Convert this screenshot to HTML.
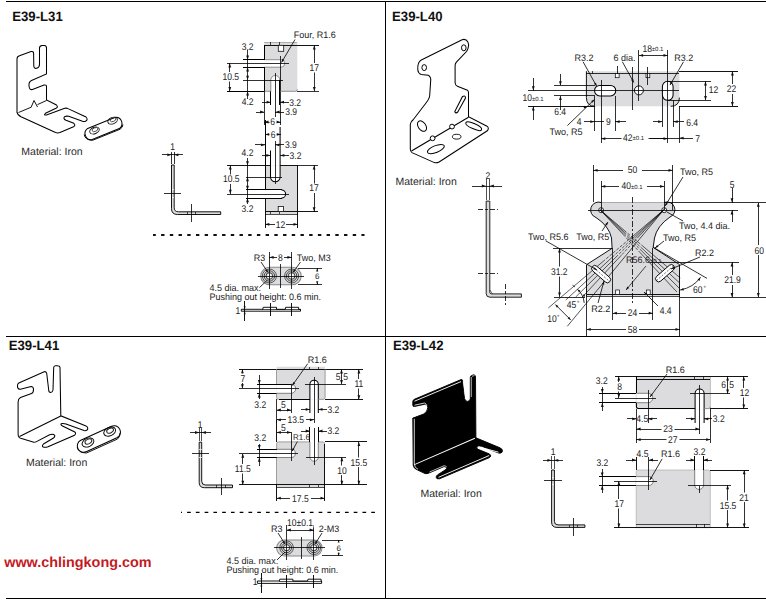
<!DOCTYPE html>
<html><head><meta charset="utf-8"><style>
html,body{margin:0;padding:0;background:#fff;width:766px;height:601px;overflow:hidden}
svg{display:block}
text{font-family:"Liberation Sans", sans-serif;text-rendering:geometricPrecision}
</style></head><body>
<svg width="766" height="601" viewBox="0 0 766 601">
<line x1="6" y1="1.5" x2="766" y2="1.5" stroke="#000" stroke-width="1.38" shape-rendering="crispEdges"/>
<line x1="6" y1="598.5" x2="766" y2="598.5" stroke="#000" stroke-width="1.38" shape-rendering="crispEdges"/>
<line x1="385.5" y1="1" x2="385.5" y2="599" stroke="#000" stroke-width="1.38" shape-rendering="crispEdges"/>
<line x1="6" y1="336.5" x2="766" y2="336.5" stroke="#000" stroke-width="1.38" shape-rendering="crispEdges"/>
<text transform="translate(12.2 20.9) scale(0.97 1)" x="0" y="0" font-size="13.6" text-anchor="start" fill="#111" font-weight="bold">E39-L31</text>
<text transform="translate(392 20.9) scale(0.97 1)" x="0" y="0" font-size="13.6" text-anchor="start" fill="#111" font-weight="bold">E39-L40</text>
<text transform="translate(8.7 349.9) scale(0.97 1)" x="0" y="0" font-size="13.6" text-anchor="start" fill="#111" font-weight="bold">E39-L41</text>
<text transform="translate(392.9 349.8) scale(0.97 1)" x="0" y="0" font-size="13.6" text-anchor="start" fill="#111" font-weight="bold">E39-L42</text>
<text transform="translate(21.3 154.6) scale(1 1)" x="0" y="0" font-size="10.5" text-anchor="start" fill="#2a2a2a">Material: Iron</text>
<text transform="translate(395.5 184.5) scale(1 1)" x="0" y="0" font-size="10.5" text-anchor="start" fill="#2a2a2a">Material: Iron</text>
<text transform="translate(26 465.6) scale(1 1)" x="0" y="0" font-size="10.5" text-anchor="start" fill="#2a2a2a">Material: Iron</text>
<text transform="translate(420.5 496.5) scale(1 1)" x="0" y="0" font-size="10.5" text-anchor="start" fill="#2a2a2a">Material: Iron</text>
<text transform="translate(4.2 566.7) scale(1 1)" x="0" y="0" font-size="14.4" text-anchor="start" fill="#c41a1f" font-weight="bold">www.chlingkong.com</text>
<path d="M 17,113 L 17,59 Q 17,56.5 19.5,55.8 L 31,51.5 Q 33.5,51 33.6,53.5 L 33.8,66 Q 34,68.8 36.5,68.3 Q 39.5,67.5 39.5,64.5 L 39.5,48 Q 39.5,46 42,45.6 L 44.5,45.4 Q 46.5,45.6 46.5,48 L 46.5,74 L 31.5,80.5 Q 28.5,82 29,86 Q 29.5,90.3 32.5,89.5 L 44,85 Q 46.5,84.5 46.5,86.8 L 46.5,100 L 56.5,105 Q 58.5,107 56,108.3 L 45.5,113.3 Q 43,115.3 46.5,115 L 64.7,108.3 Q 66.5,107.8 68,108.6 L 86,117 Q 88.5,119.5 85.5,121.3 Q 84,121.8 82.5,121.3 L 68.7,116.3 Q 63.5,115.5 64,118.5 Q 64.3,119.5 66,120.3 L 73.8,123.3 Q 76,125.3 73.5,126.8 L 60,132.5 Q 57.8,133.3 55.5,132.5 L 21,116.8 Q 17.3,115 17,112 Z" fill="none" stroke="#000" stroke-width="1.035" />
<path d="M 18.5,112.5 L 31,107.3 M 37.5,104.6 L 46.5,100.5" fill="none" stroke="#000" stroke-width="0.9199999999999999" />
<path d="M 31,107.5 L 34,100.5 L 37.5,107" fill="none" stroke="#000" stroke-width="0.9199999999999999" />
<path d="M 87.7,128.4 L 114.7,117.4 A 6.2 6.2 0 0 1 119.3,128.6 L 92.3,139.6 A 6.2 6.2 0 0 1 87.7,128.4 Z" fill="#fff" stroke="#000" stroke-width="1.035" />
<path d="M 84.2,134.5 Q 84.8,139.8 92.3,140.4 L 120,129.3 Q 122.8,127.5 122.9,124.5" fill="none" stroke="#000" stroke-width="0.9199999999999999" />
<ellipse cx="94.5" cy="130.5" rx="5" ry="3.2" transform="rotate(-22 94.5 130.5)" fill="none" stroke="#111" stroke-width="0.9"/>
<ellipse cx="95" cy="129.6" rx="3" ry="1.8" transform="rotate(-22 95 129.6)" fill="none" stroke="#333" stroke-width="0.8"/>
<ellipse cx="112.6" cy="120.6" rx="5" ry="3.2" transform="rotate(-22 112.6 120.6)" fill="none" stroke="#111" stroke-width="0.9"/>
<ellipse cx="113" cy="119.7" rx="3" ry="1.8" transform="rotate(-22 113 119.7)" fill="none" stroke="#333" stroke-width="0.8"/>
<text transform="translate(172.7 149.58) scale(0.87 1)" x="0" y="0" font-size="9.8" text-anchor="middle" fill="#222">1</text>
<line x1="162.2" y1="154.8" x2="182.7" y2="154.8" stroke="#000" stroke-width="0.8049999999999999" shape-rendering="crispEdges"/>
<polygon points="171.50,154.80 167.30,156.20 167.30,153.40" fill="#111"/>
<polygon points="174.20,154.80 178.40,153.40 178.40,156.20" fill="#111"/>
<line x1="171.5" y1="151.5" x2="171.5" y2="164.2" stroke="#000" stroke-width="0.8049999999999999" shape-rendering="crispEdges"/>
<line x1="174.2" y1="151.5" x2="174.2" y2="164.2" stroke="#000" stroke-width="0.8049999999999999" shape-rendering="crispEdges"/>
<path d="M 171.5,165 L 171.5,208.5 Q 171.5,214.5 177.5,214.5 L 220.7,214.5 L 220.7,211.8 L 178.5,211.8 Q 174.2,211.8 174.2,207.5 L 174.2,165 Z" fill="#dcdcdf" stroke="#000" stroke-width="0.9199999999999999" />
<line x1="164" y1="193.2" x2="180.8" y2="193.2" stroke="#000" stroke-width="0.8049999999999999" shape-rendering="crispEdges"/>
<line x1="171.5" y1="189.5" x2="174.2" y2="189.5" stroke="#fff" stroke-width="0.69" shape-rendering="crispEdges"/>
<line x1="171.5" y1="197" x2="174.2" y2="197" stroke="#fff" stroke-width="0.69" shape-rendering="crispEdges"/>
<line x1="191.4" y1="204.3" x2="191.4" y2="222" stroke="#000" stroke-width="0.8049999999999999" shape-rendering="crispEdges"/>
<line x1="187.5" y1="211.8" x2="187.5" y2="214.5" stroke="#000" stroke-width="0.69" shape-rendering="crispEdges"/>
<line x1="195" y1="211.8" x2="195" y2="214.5" stroke="#000" stroke-width="0.69" shape-rendering="crispEdges"/>
<rect x="264.3" y="42.2" width="33" height="49.1" rx="0" fill="#dcdcdf" stroke="none" stroke-width="0.8"/>
<line x1="264.3" y1="45.3" x2="319" y2="45.3" stroke="#000" stroke-width="0.9199999999999999" shape-rendering="crispEdges"/>
<line x1="264.3" y1="42.2" x2="297.3" y2="42.2" stroke="#888" stroke-width="0.575" shape-rendering="crispEdges"/>
<line x1="270.3" y1="42.2" x2="270.3" y2="45.3" stroke="#000" stroke-width="0.69" shape-rendering="crispEdges"/>
<line x1="279.3" y1="42.2" x2="279.3" y2="45.3" stroke="#000" stroke-width="0.69" shape-rendering="crispEdges"/>
<rect x="278.3" y="45.3" width="5.4" height="6" rx="0" fill="#fff" stroke="#111" stroke-width="0.8"/>
<path d="M 242.8,59.7 L 281,59.7 A 3.75 3.75 0 0 1 281,67.2 L 242.8,67.2 Z" fill="#fff" stroke="none" stroke-width="0.9199999999999999" />
<line x1="242.8" y1="59.7" x2="264.3" y2="59.7" stroke="#000" stroke-width="1.035" shape-rendering="crispEdges"/>
<line x1="242.8" y1="67.2" x2="264.3" y2="67.2" stroke="#000" stroke-width="1.035" shape-rendering="crispEdges"/>
<path d="M 264.3,59.7 L 281,59.7 A 3.75 3.75 0 0 1 281,67.2 L 264.3,67.2" fill="none" stroke="#777" stroke-width="0.8049999999999999" />
<line x1="264.3" y1="45.3" x2="264.3" y2="59.7" stroke="#000" stroke-width="1.035" shape-rendering="crispEdges"/>
<line x1="264.3" y1="67.2" x2="264.3" y2="91.3" stroke="#000" stroke-width="1.035" shape-rendering="crispEdges"/>
<line x1="227.4" y1="63.2" x2="288.8" y2="63.2" stroke="#000" stroke-width="0.8049999999999999" shape-rendering="crispEdges"/>
<path d="M 270.8,91.5 L 270.8,80 A 4.5 4.5 0 0 1 279.8,80 L 279.8,91.5 Z" fill="#fff" stroke="none" stroke-width="0.9199999999999999" />
<path d="M 270.8,91.3 L 270.8,80 A 4.5 4.5 0 0 1 279.8,80" fill="none" stroke="#777" stroke-width="0.8049999999999999" />
<line x1="270.8" y1="91.3" x2="270.8" y2="105" stroke="#000" stroke-width="1.035" shape-rendering="crispEdges"/>
<line x1="279.8" y1="80" x2="279.8" y2="105" stroke="#000" stroke-width="1.15" shape-rendering="crispEdges"/>
<line x1="275.4" y1="72.5" x2="275.4" y2="116.7" stroke="#000" stroke-width="0.8049999999999999" shape-rendering="crispEdges"/>
<line x1="242.8" y1="80" x2="283" y2="80" stroke="#000" stroke-width="0.8049999999999999" shape-rendering="crispEdges"/>
<line x1="280.5" y1="55.7" x2="280.5" y2="125" stroke="#000" stroke-width="0.8049999999999999" shape-rendering="crispEdges"/>
<line x1="227.4" y1="91.3" x2="264.3" y2="91.3" stroke="#000" stroke-width="1.035" shape-rendering="crispEdges"/>
<path d="M 264.3,91.3 L 270.8,91.3 M 279.8,91.3 L 295.3,91.3 Q 297.3,91.3 297.3,89.3" fill="none" stroke="#777" stroke-width="0.8049999999999999" />
<line x1="297.3" y1="91.3" x2="319" y2="91.3" stroke="#000" stroke-width="0.8049999999999999" shape-rendering="crispEdges"/>
<line x1="264.3" y1="91.3" x2="264.3" y2="125" stroke="#000" stroke-width="0.8049999999999999" shape-rendering="crispEdges"/>
<line x1="314.3" y1="45.3" x2="314.3" y2="91.3" stroke="#000" stroke-width="0.8049999999999999" shape-rendering="crispEdges"/>
<polygon points="314.30,45.30 315.70,49.50 312.90,49.50" fill="#111"/>
<polygon points="314.30,91.30 312.90,87.10 315.70,87.10" fill="#111"/>
<rect x="308.5" y="63" width="12" height="9.5" rx="0" fill="#fff" stroke="none" stroke-width="0.8"/>
<text transform="translate(314.3 70.98) scale(0.87 1)" x="0" y="0" font-size="9.8" text-anchor="middle" fill="#222">17</text>
<line x1="229.8" y1="63.2" x2="229.8" y2="91.3" stroke="#000" stroke-width="0.8049999999999999" shape-rendering="crispEdges"/>
<polygon points="229.80,63.20 231.20,67.40 228.40,67.40" fill="#111"/>
<polygon points="229.80,91.30 228.40,87.10 231.20,87.10" fill="#111"/>
<rect x="221.5" y="72" width="19" height="9.5" rx="0" fill="#fff" stroke="none" stroke-width="0.8"/>
<text transform="translate(230.8 80.08) scale(0.87 1)" x="0" y="0" font-size="9.8" text-anchor="middle" fill="#222">10.5</text>
<line x1="247.6" y1="50.2" x2="247.6" y2="98.7" stroke="#000" stroke-width="0.8049999999999999" shape-rendering="crispEdges"/>
<polygon points="247.60,59.70 246.20,55.50 249.00,55.50" fill="#111"/>
<polygon points="247.60,67.20 249.00,71.40 246.20,71.40" fill="#111"/>
<polygon points="247.60,80.00 246.20,75.80 249.00,75.80" fill="#111"/>
<polygon points="247.60,91.30 249.00,95.50 246.20,95.50" fill="#111"/>
<text transform="translate(247.6 49.88) scale(0.87 1)" x="0" y="0" font-size="9.8" text-anchor="middle" fill="#222">3.2</text>
<text transform="translate(247.6 105.18) scale(0.87 1)" x="0" y="0" font-size="9.8" text-anchor="middle" fill="#222">4.2</text>
<line x1="262" y1="102.2" x2="270.8" y2="102.2" stroke="#000" stroke-width="0.8049999999999999" shape-rendering="crispEdges"/>
<polygon points="270.80,102.20 266.60,103.60 266.60,100.80" fill="#111"/>
<line x1="279.8" y1="102.2" x2="289" y2="102.2" stroke="#000" stroke-width="0.8049999999999999" shape-rendering="crispEdges"/>
<polygon points="279.80,102.20 284.00,100.80 284.00,103.60" fill="#111"/>
<text transform="translate(289.2 105.58) scale(0.87 1)" x="0" y="0" font-size="9.8" text-anchor="start" fill="#222">3.2</text>
<line x1="256" y1="112" x2="264.3" y2="112" stroke="#000" stroke-width="0.8049999999999999" shape-rendering="crispEdges"/>
<polygon points="264.30,112.00 260.10,113.40 260.10,110.60" fill="#111"/>
<line x1="275.4" y1="112" x2="284" y2="112" stroke="#000" stroke-width="0.8049999999999999" shape-rendering="crispEdges"/>
<polygon points="275.40,112.00 279.60,110.60 279.60,113.40" fill="#111"/>
<text transform="translate(285.2 115.38) scale(0.87 1)" x="0" y="0" font-size="9.8" text-anchor="start" fill="#222">3.9</text>
<line x1="264.3" y1="122" x2="280.5" y2="122" stroke="#000" stroke-width="0.8049999999999999" shape-rendering="crispEdges"/>
<polygon points="264.30,122.00 268.50,120.60 268.50,123.40" fill="#111"/>
<polygon points="280.50,122.00 276.30,123.40 276.30,120.60" fill="#111"/>
<rect x="269.5" y="117" width="7" height="9" rx="0" fill="#fff" stroke="none" stroke-width="0.8"/>
<text transform="translate(272.7 124.88) scale(0.87 1)" x="0" y="0" font-size="9.8" text-anchor="middle" fill="#222">6</text>
<text transform="translate(293.7 37.84) scale(0.96 1)" x="0" y="0" font-size="9.4" text-anchor="start" fill="#222">Four, R1.6</text>
<line x1="295" y1="39.5" x2="281.5" y2="62.5" stroke="#000" stroke-width="0.8049999999999999"/>
<polygon points="281.50,62.50 282.24,58.87 284.31,60.09" fill="#111"/>
<rect x="265.1" y="165.4" width="32.6" height="48.8" rx="0" fill="#dcdcdf" stroke="none" stroke-width="0.8"/>
<path d="M 270.5,165.4 L 270.5,177 A 4.8 4.8 0 0 0 280.1,177 L 280.1,165.4 Z" fill="#fff" stroke="none" stroke-width="0.9199999999999999" />
<path d="M 270.5,150.6 L 270.5,177 A 4.8 4.8 0 0 0 280.1,177 L 280.1,127" fill="none" stroke="#000" stroke-width="1.035" />
<line x1="265.1" y1="120" x2="265.1" y2="189.9" stroke="#000" stroke-width="1.035" shape-rendering="crispEdges"/>
<path d="M 281.5,189.9 A 4.1 4.1 0 0 1 281.5,198.1 L 245.6,198.1 L 245.6,189.9 Z" fill="#fff" stroke="none" stroke-width="0.9199999999999999" />
<line x1="245.6" y1="189.9" x2="281.5" y2="189.9" stroke="#000" stroke-width="1.035" shape-rendering="crispEdges"/>
<line x1="245.6" y1="198.1" x2="281.5" y2="198.1" stroke="#000" stroke-width="1.035" shape-rendering="crispEdges"/>
<path d="M 281.5,189.9 A 4.1 4.1 0 0 1 281.5,198.1" fill="none" stroke="#000" stroke-width="1.035" />
<line x1="265.1" y1="198.1" x2="265.1" y2="228.1" stroke="#000" stroke-width="0.9199999999999999" shape-rendering="crispEdges"/>
<line x1="227.4" y1="165.4" x2="270.5" y2="165.4" stroke="#000" stroke-width="0.9199999999999999" shape-rendering="crispEdges"/>
<line x1="280.1" y1="165.4" x2="297.7" y2="165.4" stroke="#000" stroke-width="0.9199999999999999" shape-rendering="crispEdges"/>
<line x1="297.7" y1="165.4" x2="318.3" y2="165.4" stroke="#000" stroke-width="0.8049999999999999" shape-rendering="crispEdges"/>
<line x1="297.7" y1="165.4" x2="297.7" y2="228.1" stroke="#000" stroke-width="0.9199999999999999" shape-rendering="crispEdges"/>
<line x1="265.1" y1="211.5" x2="318.3" y2="211.5" stroke="#000" stroke-width="0.9199999999999999" shape-rendering="crispEdges"/>
<line x1="265.1" y1="214.2" x2="297.7" y2="214.2" stroke="#000" stroke-width="0.69" shape-rendering="crispEdges"/>
<line x1="270.5" y1="211.5" x2="270.5" y2="214.2" stroke="#000" stroke-width="0.69" shape-rendering="crispEdges"/>
<line x1="279.1" y1="211.5" x2="279.1" y2="214.2" stroke="#000" stroke-width="0.69" shape-rendering="crispEdges"/>
<rect x="278.2" y="206.5" width="5.3" height="5" rx="0" fill="#fff" stroke="#111" stroke-width="0.8"/>
<line x1="245.6" y1="177" x2="282" y2="177" stroke="#000" stroke-width="0.8049999999999999" shape-rendering="crispEdges"/>
<line x1="227.4" y1="194" x2="288.7" y2="194" stroke="#000" stroke-width="0.8049999999999999" shape-rendering="crispEdges"/>
<line x1="275.3" y1="141" x2="275.3" y2="184.1" stroke="#000" stroke-width="0.8049999999999999" shape-rendering="crispEdges"/>
<line x1="230.3" y1="165.4" x2="230.3" y2="194" stroke="#000" stroke-width="0.8049999999999999" shape-rendering="crispEdges"/>
<polygon points="230.30,165.40 231.70,169.60 228.90,169.60" fill="#111"/>
<polygon points="230.30,194.00 228.90,189.80 231.70,189.80" fill="#111"/>
<rect x="221.5" y="174.5" width="19" height="9.5" rx="0" fill="#fff" stroke="none" stroke-width="0.8"/>
<text transform="translate(231.3 182.38) scale(0.87 1)" x="0" y="0" font-size="9.8" text-anchor="middle" fill="#222">10.5</text>
<line x1="247.5" y1="158.3" x2="247.5" y2="204.2" stroke="#000" stroke-width="0.8049999999999999" shape-rendering="crispEdges"/>
<polygon points="247.50,165.40 246.10,161.20 248.90,161.20" fill="#111"/>
<polygon points="247.50,177.00 248.90,181.20 246.10,181.20" fill="#111"/>
<polygon points="247.50,189.90 246.10,185.70 248.90,185.70" fill="#111"/>
<polygon points="247.50,198.10 248.90,202.30 246.10,202.30" fill="#111"/>
<text transform="translate(247.5 156.28) scale(0.87 1)" x="0" y="0" font-size="9.8" text-anchor="middle" fill="#222">4.2</text>
<text transform="translate(247.5 212.38) scale(0.87 1)" x="0" y="0" font-size="9.8" text-anchor="middle" fill="#222">3.2</text>
<line x1="314.1" y1="165.4" x2="314.1" y2="211.5" stroke="#000" stroke-width="0.8049999999999999" shape-rendering="crispEdges"/>
<polygon points="314.10,165.40 315.50,169.60 312.70,169.60" fill="#111"/>
<polygon points="314.10,211.50 312.70,207.30 315.50,207.30" fill="#111"/>
<rect x="308.5" y="183.5" width="12" height="9.5" rx="0" fill="#fff" stroke="none" stroke-width="0.8"/>
<text transform="translate(314.1 191.38) scale(0.87 1)" x="0" y="0" font-size="9.8" text-anchor="middle" fill="#222">17</text>
<line x1="265.1" y1="224.3" x2="297.7" y2="224.3" stroke="#000" stroke-width="0.8049999999999999" shape-rendering="crispEdges"/>
<polygon points="265.10,224.30 269.30,222.90 269.30,225.70" fill="#111"/>
<polygon points="297.70,224.30 293.50,225.70 293.50,222.90" fill="#111"/>
<rect x="275" y="219.5" width="11" height="9.5" rx="0" fill="#fff" stroke="none" stroke-width="0.8"/>
<text transform="translate(280.6 227.68) scale(0.87 1)" x="0" y="0" font-size="9.8" text-anchor="middle" fill="#222">12</text>
<line x1="265.1" y1="134.4" x2="280.8" y2="134.4" stroke="#000" stroke-width="0.8049999999999999" shape-rendering="crispEdges"/>
<polygon points="265.10,134.40 269.30,133.00 269.30,135.80" fill="#111"/>
<polygon points="280.80,134.40 276.60,135.80 276.60,133.00" fill="#111"/>
<rect x="269.5" y="129.5" width="7" height="9" rx="0" fill="#fff" stroke="none" stroke-width="0.8"/>
<text transform="translate(273 137.78) scale(0.87 1)" x="0" y="0" font-size="9.8" text-anchor="middle" fill="#222">6</text>
<line x1="255.2" y1="144.9" x2="265.1" y2="144.9" stroke="#000" stroke-width="0.8049999999999999" shape-rendering="crispEdges"/>
<polygon points="265.10,144.90 260.90,146.30 260.90,143.50" fill="#111"/>
<line x1="275.3" y1="144.9" x2="283.9" y2="144.9" stroke="#000" stroke-width="0.8049999999999999" shape-rendering="crispEdges"/>
<polygon points="275.30,144.90 279.50,143.50 279.50,146.30" fill="#111"/>
<text transform="translate(284.9 148.28) scale(0.87 1)" x="0" y="0" font-size="9.8" text-anchor="start" fill="#222">3.9</text>
<line x1="261.9" y1="155.4" x2="270.5" y2="155.4" stroke="#000" stroke-width="0.8049999999999999" shape-rendering="crispEdges"/>
<polygon points="270.50,155.40 266.30,156.80 266.30,154.00" fill="#111"/>
<line x1="280.1" y1="155.4" x2="288.7" y2="155.4" stroke="#000" stroke-width="0.8049999999999999" shape-rendering="crispEdges"/>
<polygon points="280.10,155.40 284.30,154.00 284.30,156.80" fill="#111"/>
<text transform="translate(289.6 158.78) scale(0.87 1)" x="0" y="0" font-size="9.8" text-anchor="start" fill="#222">3.2</text>
<line x1="153" y1="234.9" x2="364.5" y2="234.9" stroke="#111" stroke-width="2" stroke-dasharray="3.4 5.31" stroke-dashoffset="0.6"/>
<path d="M 269.5,267.2 L 292.4,267.2 A 8.8 8.8 0 0 1 292.4,284.8 L 269.5,284.8 A 8.8 8.8 0 0 1 269.5,267.2 Z" fill="#dcdcdf" stroke="#888" stroke-width="1.035" />
<circle cx="269.4" cy="276" r="7.0" fill="none" stroke="#444" stroke-width="0.9"/>
<circle cx="269.4" cy="276" r="5.2" fill="none" stroke="#333" stroke-width="0.9"/>
<circle cx="269.4" cy="276" r="3.4" fill="none" stroke="#333" stroke-width="0.9"/>
<circle cx="269.4" cy="276" r="1.8" fill="#fff" stroke="#fff" stroke-width="0.5"/>
<circle cx="291.6" cy="276" r="7.0" fill="none" stroke="#444" stroke-width="0.9"/>
<circle cx="291.6" cy="276" r="5.2" fill="none" stroke="#333" stroke-width="0.9"/>
<circle cx="291.6" cy="276" r="3.4" fill="none" stroke="#333" stroke-width="0.9"/>
<circle cx="291.6" cy="276" r="1.8" fill="#fff" stroke="#fff" stroke-width="0.5"/>
<line x1="258" y1="276" x2="303.6" y2="276" stroke="#000" stroke-width="0.8049999999999999" shape-rendering="crispEdges"/>
<line x1="269.4" y1="252.4" x2="269.4" y2="288.6" stroke="#000" stroke-width="0.8049999999999999" shape-rendering="crispEdges"/>
<line x1="291.6" y1="252.4" x2="291.6" y2="288.6" stroke="#000" stroke-width="0.8049999999999999" shape-rendering="crispEdges"/>
<line x1="280.5" y1="264" x2="280.5" y2="287.5" stroke="#000" stroke-width="0.8049999999999999" shape-rendering="crispEdges"/>
<line x1="269.4" y1="257.3" x2="291.6" y2="257.3" stroke="#000" stroke-width="0.8049999999999999" shape-rendering="crispEdges"/>
<polygon points="269.40,257.30 273.60,255.90 273.60,258.70" fill="#111"/>
<polygon points="291.60,257.30 287.40,258.70 287.40,255.90" fill="#111"/>
<rect x="277" y="252.5" width="7" height="9" rx="0" fill="#fff" stroke="none" stroke-width="0.8"/>
<text transform="translate(280.4 260.68) scale(0.87 1)" x="0" y="0" font-size="9.8" text-anchor="middle" fill="#222">8</text>
<text transform="translate(253.7 260.54) scale(0.96 1)" x="0" y="0" font-size="9.4" text-anchor="start" fill="#222">R3</text>
<text transform="translate(296.8 260.54) scale(0.96 1)" x="0" y="0" font-size="9.4" text-anchor="start" fill="#222">Two, M3</text>
<line x1="261" y1="262" x2="268" y2="272.5" stroke="#000" stroke-width="0.8049999999999999"/>
<polygon points="268.00,272.50 265.32,270.44 267.15,269.22" fill="#111"/>
<line x1="300.5" y1="262" x2="293" y2="272.5" stroke="#000" stroke-width="0.8049999999999999"/>
<polygon points="293.00,272.50 293.97,269.26 295.76,270.54" fill="#111"/>
<line x1="298.4" y1="268.3" x2="322" y2="268.3" stroke="#000" stroke-width="0.8049999999999999" shape-rendering="crispEdges"/>
<line x1="298.4" y1="284.5" x2="322" y2="284.5" stroke="#000" stroke-width="0.8049999999999999" shape-rendering="crispEdges"/>
<line x1="317.2" y1="268.3" x2="317.2" y2="270" stroke="#000" stroke-width="0.8049999999999999" shape-rendering="crispEdges"/>
<line x1="317.2" y1="282.5" x2="317.2" y2="284.5" stroke="#000" stroke-width="0.8049999999999999" shape-rendering="crispEdges"/>
<polygon points="317.20,268.30 318.30,271.50 316.10,271.50" fill="#111"/>
<polygon points="317.20,284.50 316.10,281.30 318.30,281.30" fill="#111"/>
<text transform="translate(317.2 279.06) scale(1 1)" x="0" y="0" font-size="8" text-anchor="middle" fill="#222">6</text>
<text transform="translate(209.5 291.24) scale(0.96 1)" x="0" y="0" font-size="9.4" text-anchor="start" fill="#222">4.5 dia. max.</text>
<line x1="259.5" y1="287.5" x2="267.5" y2="280" stroke="#000" stroke-width="0.8049999999999999"/>
<text transform="translate(209.5 300.24) scale(0.96 1)" x="0" y="0" font-size="9.4" text-anchor="start" fill="#222">Pushing out height: 0.6 min.</text>
<text transform="translate(237.9 313.58) scale(0.87 1)" x="0" y="0" font-size="9.8" text-anchor="middle" fill="#222">1</text>
<path d="M 241.3,309.3 L 262.8,309.3 L 263.2,307.3 L 276.5,307.3 L 276.5,309.3 L 285.3,309.3 L 285.6,307.3 L 298.6,307.3 L 298.6,309.3 L 300.5,309.3 L 300.5,311.2 L 241.3,311.2 Z" fill="#fff" stroke="#000" stroke-width="0.9199999999999999" />
<line x1="261.5" y1="309.3" x2="300.5" y2="309.3" stroke="#000" stroke-width="0.69" shape-rendering="crispEdges"/>
<line x1="244.7" y1="301.4" x2="244.7" y2="320.5" stroke="#000" stroke-width="0.9199999999999999" shape-rendering="crispEdges"/>
<polygon points="244.70,309.30 243.70,306.30 245.70,306.30" fill="#111"/>
<polygon points="244.70,311.20 245.70,314.20 243.70,314.20" fill="#111"/>
<line x1="270.2" y1="302.9" x2="270.2" y2="315.6" stroke="#000" stroke-width="0.9199999999999999" shape-rendering="crispEdges"/>
<line x1="291.2" y1="302.9" x2="291.2" y2="315.6" stroke="#000" stroke-width="0.9199999999999999" shape-rendering="crispEdges"/>
<path d="M 421.3,60 L 462.1,39.7 Q 466,38.5 467.9,42 Q 469.5,45 468,48.5 L 466.7,51.3 L 456.2,62.4 Q 455,64 455.1,66 L 455.1,82.8 Q 455.3,85.5 457.4,86.2 L 467.5,90.3 Q 468.5,91 468.5,92.5 L 468.5,116.7 L 487,126.2 Q 489.5,128 487.3,130.8 L 439.1,162 Q 436.5,163.3 434.4,162.6 L 412,152.6 Q 410.3,151.5 410.3,149 L 410.3,124.4 Q 410.5,121.5 413.2,119.7 L 426,103 Q 429.5,98.5 429.7,95.5 L 430.6,81.6 Q 431.5,77.5 428.3,75.2 L 421.3,74.6 Q 418.2,73.3 417.8,70 Q 417.3,62 421.3,60 Z" fill="#fff" stroke="#000" stroke-width="1.035" />
<line x1="411.5" y1="151" x2="468.5" y2="117.3" stroke="#000" stroke-width="1.035"/>
<ellipse cx="424.2" cy="67.6" rx="2.3" ry="3" fill="none" stroke="#000" stroke-width="1"/>
<ellipse cx="463.8" cy="47.8" rx="2.3" ry="3" fill="none" stroke="#000" stroke-width="1"/>
<path d="M 462.5,96.5 Q 465.5,95 465.5,98 L 457.8,112 Q 455.5,114 454.8,111.5 L 462.5,96.5 Z" fill="none" stroke="#000" stroke-width="1.035" />
<ellipse cx="422" cy="126.1" rx="3.8" ry="5.8" transform="rotate(-35 422 126.1)" fill="none" stroke="#000" stroke-width="1"/>
<circle cx="432.6" cy="138.3" r="2.4" fill="#fff" stroke="#000" stroke-width="1.0"/>
<circle cx="452" cy="126.6" r="2.4" fill="#fff" stroke="#000" stroke-width="1.0"/>
<ellipse cx="473.7" cy="126.2" rx="8.6" ry="2.6" transform="rotate(24 473.7 126.2)" fill="none" stroke="#000" stroke-width="1"/>
<ellipse cx="456.7" cy="136.7" rx="4.3" ry="2.4" fill="none" stroke="#000" stroke-width="0.9"/>
<ellipse cx="436" cy="149" rx="9" ry="3.4" transform="rotate(-22 436 149.3)" fill="none" stroke="#000" stroke-width="1"/>
<path d="M 586.4,71.2 L 679.4,71.2 L 679.4,97.6 Q 679.4,106.3 670.7,106.3 L 595.1,106.3 Q 586.4,106.3 586.4,97.6 Z" fill="#dcdcdf" stroke="none" stroke-width="0.9199999999999999" />
<line x1="586.4" y1="73.5" x2="679.4" y2="73.5" stroke="#000" stroke-width="0.8049999999999999" shape-rendering="crispEdges"/>
<line x1="679.4" y1="71.2" x2="738" y2="71.2" stroke="#000" stroke-width="0.9199999999999999" shape-rendering="crispEdges"/>
<line x1="679.4" y1="106.3" x2="738" y2="106.3" stroke="#000" stroke-width="0.9199999999999999" shape-rendering="crispEdges"/>
<path d="M 586.4,71.2 L 586.4,97.6 Q 586.4,106.3 595.1,106.3" fill="none" stroke="#000" stroke-width="0.9199999999999999" />
<path d="M 670.7,106.3 Q 679.4,106.3 679.4,97.6" fill="none" stroke="#000" stroke-width="0.9199999999999999" />
<line x1="528.1" y1="106.3" x2="595.1" y2="106.3" stroke="#000" stroke-width="0.9199999999999999" shape-rendering="crispEdges"/>
<line x1="592.7" y1="71.2" x2="592.7" y2="73.5" stroke="#000" stroke-width="0.69" shape-rendering="crispEdges"/>
<path d="M 599.8,85.4 L 610.5,85.4 A 5.25 5.25 0 0 1 610.5,95.9 L 599.8,95.9 A 5.25 5.25 0 0 1 599.8,85.4 Z" fill="#fff" stroke="#000" stroke-width="1.035" />
<circle cx="638.9" cy="90.4" r="4.5" fill="#fff" stroke="#000" stroke-width="0.9"/>
<path d="M 662.4,86.6 A 5.35 5.35 0 0 1 673.1,86.6 L 673.1,95 A 5.35 5.35 0 0 1 662.4,95 Z" fill="#fff" stroke="#000" stroke-width="1.035" />
<rect x="615.3" y="73.5" width="3.8" height="4.2" rx="0" fill="#fff" stroke="#000" stroke-width="0.7"/>
<rect x="646" y="73.5" width="3.8" height="4.2" rx="0" fill="#fff" stroke="#000" stroke-width="0.7"/>
<line x1="617.2" y1="66.2" x2="617.2" y2="73.5" stroke="#000" stroke-width="0.8049999999999999" shape-rendering="crispEdges"/>
<line x1="647.9" y1="66.5" x2="647.9" y2="84.6" stroke="#000" stroke-width="0.8049999999999999" shape-rendering="crispEdges"/>
<line x1="528.1" y1="90.5" x2="679.4" y2="90.5" stroke="#000" stroke-width="0.8049999999999999" shape-rendering="crispEdges"/>
<line x1="601.1" y1="80.2" x2="601.1" y2="143" stroke="#000" stroke-width="0.8049999999999999" shape-rendering="crispEdges"/>
<line x1="638.9" y1="49.6" x2="638.9" y2="101.2" stroke="#000" stroke-width="0.8049999999999999" shape-rendering="crispEdges"/>
<line x1="667.7" y1="49.6" x2="667.7" y2="143" stroke="#000" stroke-width="0.8049999999999999" shape-rendering="crispEdges"/>
<line x1="632.5" y1="66.5" x2="632.5" y2="110.1" stroke="#000" stroke-width="0.8049999999999999" shape-rendering="crispEdges"/>
<line x1="554.3" y1="85.4" x2="594.5" y2="85.4" stroke="#000" stroke-width="0.8049999999999999" shape-rendering="crispEdges"/>
<line x1="554.3" y1="95.9" x2="594.5" y2="95.9" stroke="#000" stroke-width="0.8049999999999999" shape-rendering="crispEdges"/>
<line x1="594.5" y1="96" x2="594.5" y2="130.8" stroke="#000" stroke-width="0.8049999999999999" shape-rendering="crispEdges"/>
<line x1="615.4" y1="96" x2="615.4" y2="130.8" stroke="#000" stroke-width="0.8049999999999999" shape-rendering="crispEdges"/>
<line x1="662.4" y1="95" x2="662.4" y2="127" stroke="#000" stroke-width="0.8049999999999999" shape-rendering="crispEdges"/>
<line x1="673.4" y1="100" x2="673.4" y2="127" stroke="#000" stroke-width="0.8049999999999999" shape-rendering="crispEdges"/>
<line x1="679.4" y1="106.3" x2="679.4" y2="143" stroke="#000" stroke-width="0.8049999999999999" shape-rendering="crispEdges"/>
<line x1="668" y1="81.3" x2="711.3" y2="81.3" stroke="#000" stroke-width="0.8049999999999999" shape-rendering="crispEdges"/>
<line x1="668" y1="100.3" x2="711.3" y2="100.3" stroke="#000" stroke-width="0.8049999999999999" shape-rendering="crispEdges"/>
<line x1="533.3" y1="77.6" x2="533.3" y2="90.5" stroke="#000" stroke-width="0.8049999999999999" shape-rendering="crispEdges"/>
<polygon points="533.30,90.50 531.90,86.30 534.70,86.30" fill="#111"/>
<line x1="533.3" y1="106.3" x2="533.3" y2="119.5" stroke="#000" stroke-width="0.8049999999999999" shape-rendering="crispEdges"/>
<polygon points="533.30,106.30 534.70,110.50 531.90,110.50" fill="#111"/>
<text transform="translate(522.5 101.38) scale(0.87 1)" x="0" y="0" font-size="9.8" text-anchor="start" fill="#222">10</text>
<text transform="translate(532 100.87) scale(1 1)" x="0" y="0" font-size="6" text-anchor="start" fill="#222">±0.1</text>
<line x1="560.4" y1="74" x2="560.4" y2="85.4" stroke="#000" stroke-width="0.8049999999999999" shape-rendering="crispEdges"/>
<polygon points="560.40,85.40 559.00,81.20 561.80,81.20" fill="#111"/>
<line x1="560.4" y1="95.9" x2="560.4" y2="109.9" stroke="#000" stroke-width="0.8049999999999999" shape-rendering="crispEdges"/>
<polygon points="560.40,95.90 561.80,100.10 559.00,100.10" fill="#111"/>
<text transform="translate(554.2 114.98) scale(0.87 1)" x="0" y="0" font-size="9.8" text-anchor="start" fill="#222">6.4</text>
<line x1="584" y1="121.7" x2="594.5" y2="121.7" stroke="#000" stroke-width="0.8049999999999999" shape-rendering="crispEdges"/>
<polygon points="594.50,121.70 590.30,123.10 590.30,120.30" fill="#111"/>
<line x1="594.5" y1="121.7" x2="604" y2="121.7" stroke="#000" stroke-width="0.8049999999999999" shape-rendering="crispEdges"/>
<line x1="615.4" y1="121.7" x2="625.5" y2="121.7" stroke="#000" stroke-width="0.8049999999999999" shape-rendering="crispEdges"/>
<polygon points="615.40,121.70 619.60,120.30 619.60,123.10" fill="#111"/>
<text transform="translate(579 124.88) scale(0.87 1)" x="0" y="0" font-size="9.8" text-anchor="middle" fill="#222">4</text>
<text transform="translate(608.3 124.88) scale(0.87 1)" x="0" y="0" font-size="9.8" text-anchor="middle" fill="#222">9</text>
<line x1="601.1" y1="138.7" x2="667.7" y2="138.7" stroke="#000" stroke-width="0.8049999999999999" shape-rendering="crispEdges"/>
<polygon points="601.10,138.70 605.30,137.30 605.30,140.10" fill="#111"/>
<polygon points="667.70,138.70 663.50,140.10 663.50,137.30" fill="#111"/>
<rect x="621.5" y="133.5" width="27" height="10" rx="0" fill="#fff" stroke="none" stroke-width="0.8"/>
<text transform="translate(623 140.98) scale(0.87 1)" x="0" y="0" font-size="9.8" text-anchor="start" fill="#222">42</text>
<text transform="translate(632.5 140.47) scale(1 1)" x="0" y="0" font-size="6" text-anchor="start" fill="#222">±0.1</text>
<line x1="652.6" y1="121.7" x2="662.4" y2="121.7" stroke="#000" stroke-width="0.8049999999999999" shape-rendering="crispEdges"/>
<polygon points="662.40,121.70 658.20,123.10 658.20,120.30" fill="#111"/>
<line x1="673.4" y1="121.7" x2="683.7" y2="121.7" stroke="#000" stroke-width="0.8049999999999999" shape-rendering="crispEdges"/>
<polygon points="673.40,121.70 677.60,120.30 677.60,123.10" fill="#111"/>
<text transform="translate(686.2 126.08) scale(0.87 1)" x="0" y="0" font-size="9.8" text-anchor="start" fill="#222">6.4</text>
<line x1="650" y1="138.1" x2="679.4" y2="138.1" stroke="#000" stroke-width="0.8049999999999999" shape-rendering="crispEdges"/>
<line x1="679.4" y1="138.1" x2="692.6" y2="138.1" stroke="#000" stroke-width="0.8049999999999999" shape-rendering="crispEdges"/>
<polygon points="679.40,138.10 683.60,136.70 683.60,139.50" fill="#111"/>
<text transform="translate(695.2 141.98) scale(0.87 1)" x="0" y="0" font-size="9.8" text-anchor="start" fill="#222">7</text>
<line x1="638.9" y1="55.4" x2="667.7" y2="55.4" stroke="#000" stroke-width="0.8049999999999999" shape-rendering="crispEdges"/>
<polygon points="638.90,55.40 643.10,54.00 643.10,56.80" fill="#111"/>
<polygon points="667.70,55.40 663.50,56.80 663.50,54.00" fill="#111"/>
<text transform="translate(642.6 51.88) scale(0.87 1)" x="0" y="0" font-size="9.8" text-anchor="start" fill="#222">18</text>
<text transform="translate(651.8 51.37) scale(1 1)" x="0" y="0" font-size="6" text-anchor="start" fill="#222">±0.1</text>
<line x1="705.5" y1="81.3" x2="705.5" y2="100.3" stroke="#000" stroke-width="0.8049999999999999" shape-rendering="crispEdges"/>
<polygon points="705.50,81.30 706.90,85.50 704.10,85.50" fill="#111"/>
<polygon points="705.50,100.30 704.10,96.10 706.90,96.10" fill="#111"/>
<rect x="707.5" y="85" width="13" height="10" rx="0" fill="#fff" stroke="none" stroke-width="0.8"/>
<text transform="translate(708.7 93.38) scale(0.87 1)" x="0" y="0" font-size="9.8" text-anchor="start" fill="#222">12</text>
<line x1="732.4" y1="71.2" x2="732.4" y2="106.3" stroke="#000" stroke-width="0.8049999999999999" shape-rendering="crispEdges"/>
<polygon points="732.40,71.20 733.80,75.40 731.00,75.40" fill="#111"/>
<polygon points="732.40,106.30 731.00,102.10 733.80,102.10" fill="#111"/>
<rect x="725.5" y="84" width="14" height="10" rx="0" fill="#fff" stroke="none" stroke-width="0.8"/>
<text transform="translate(726.7 92.38) scale(0.87 1)" x="0" y="0" font-size="9.8" text-anchor="start" fill="#222">22</text>
<text transform="translate(574.5 60.74) scale(0.96 1)" x="0" y="0" font-size="9.4" text-anchor="start" fill="#222">R3.2</text>
<text transform="translate(613.5 60.74) scale(0.96 1)" x="0" y="0" font-size="9.4" text-anchor="start" fill="#222">6 dia.</text>
<text transform="translate(674.2 60.74) scale(0.96 1)" x="0" y="0" font-size="9.4" text-anchor="start" fill="#222">R3.2</text>
<line x1="583.1" y1="61.8" x2="596.7" y2="86.3" stroke="#000" stroke-width="0.8049999999999999"/>
<polygon points="596.70,86.30 593.94,83.84 596.03,82.66" fill="#111"/>
<line x1="622.4" y1="61.8" x2="633.8" y2="82.5" stroke="#000" stroke-width="0.8049999999999999"/>
<polygon points="633.80,82.50 631.07,80.00 633.18,78.85" fill="#111"/>
<line x1="683.5" y1="61.8" x2="670" y2="85" stroke="#000" stroke-width="0.8049999999999999"/>
<polygon points="670.00,85.00 670.72,81.37 672.80,82.58" fill="#111"/>
<text transform="translate(549.5 134.94) scale(0.96 1)" x="0" y="0" font-size="9.4" text-anchor="start" fill="#222">Two, R5</text>
<line x1="567.4" y1="125.6" x2="594.5" y2="99.4" stroke="#000" stroke-width="0.8049999999999999"/>
<polygon points="594.50,99.40 592.80,102.69 591.14,100.96" fill="#111"/>
<circle cx="584.9" cy="107.2" r="0.9" fill="#000" stroke="#000" stroke-width="0.5"/>
<text transform="translate(487.8 178.88) scale(0.87 1)" x="0" y="0" font-size="9.8" text-anchor="middle" fill="#222">2</text>
<line x1="472" y1="186" x2="502.3" y2="186" stroke="#000" stroke-width="0.8049999999999999" shape-rendering="crispEdges"/>
<polygon points="486.00,186.00 481.80,187.40 481.80,184.60" fill="#111"/>
<polygon points="489.70,186.00 493.90,184.60 493.90,187.40" fill="#111"/>
<line x1="486" y1="179" x2="486" y2="200" stroke="#000" stroke-width="0.69" shape-rendering="crispEdges"/>
<line x1="489.7" y1="179" x2="489.7" y2="200" stroke="#000" stroke-width="0.69" shape-rendering="crispEdges"/>
<path d="M 486.2,201.1 L 486.2,293.5 Q 486.2,297.2 489.9,297.2 L 521.4,297.2 L 521.4,293.9 L 491.5,293.9 Q 489.8,293.9 489.8,292.2 L 489.8,201.1 Z" fill="#dcdcdf" stroke="#000" stroke-width="0.8624999999999999" />
<line x1="489.8" y1="290" x2="492.5" y2="293.9" stroke="#000" stroke-width="0.575"/>
<line x1="477.8" y1="209.8" x2="497.6" y2="209.8" stroke="#000" stroke-width="0.8049999999999999" stroke-dasharray="5 2 3 2" shape-rendering="crispEdges"/>
<line x1="477.8" y1="273.4" x2="497.6" y2="273.4" stroke="#000" stroke-width="0.8049999999999999" stroke-dasharray="5 2 3 2" shape-rendering="crispEdges"/>
<line x1="505.8" y1="283.9" x2="505.8" y2="305" stroke="#000" stroke-width="0.8049999999999999" stroke-dasharray="5 2 3 2" shape-rendering="crispEdges"/>
<path d="M 601.1,202.5 L 664.2,202.5 A 7.7 7.7 0 0 1 670,217 Q 657,226 654.5,238 L 653.2,247.4 L 679.7,264.7 L 679.7,296.5 L 586.5,296.5 L 586.5,264.7 L 612.1,248.3 L 611.5,238 Q 609,226 596,217.5 A 7.7 7.7 0 0 1 601.1,202.5 Z" fill="#dcdcdf" stroke="none" stroke-width="0.9199999999999999" />
<path d="M 664.2,202.5 A 7.7 7.7 0 0 1 670,217 Q 657,226 654.5,238 L 653.2,247.4" fill="none" stroke="#000" stroke-width="0.9199999999999999" />
<path d="M 601.1,202.5 A 7.7 7.7 0 0 0 596,217.5 Q 609,226 611.5,238 L 612.1,248.3" fill="none" stroke="#000" stroke-width="0.9199999999999999" />
<line x1="612.1" y1="248.3" x2="586.5" y2="264.7" stroke="#000" stroke-width="0.9199999999999999"/>
<line x1="653.2" y1="247.4" x2="679.7" y2="264.7" stroke="#000" stroke-width="0.9199999999999999"/>
<line x1="586.5" y1="264.7" x2="586.5" y2="296.5" stroke="#000" stroke-width="0.9199999999999999" shape-rendering="crispEdges"/>
<line x1="679.7" y1="264.7" x2="679.7" y2="296.5" stroke="#000" stroke-width="0.9199999999999999" shape-rendering="crispEdges"/>
<line x1="586.5" y1="294.4" x2="679.7" y2="294.4" stroke="#000" stroke-width="0.9199999999999999" shape-rendering="crispEdges"/>
<line x1="586.5" y1="296.6" x2="679.7" y2="296.6" stroke="#000" stroke-width="0.69" shape-rendering="crispEdges"/>
<line x1="601.1" y1="202.5" x2="664.2" y2="202.5" stroke="#777" stroke-width="0.575" shape-rendering="crispEdges"/>
<circle cx="601.1" cy="210.2" r="2.5" fill="#fff" stroke="#000" stroke-width="0.8"/>
<circle cx="664.2" cy="210.2" r="2.5" fill="#fff" stroke="#000" stroke-width="0.8"/>
<line x1="587.8" y1="210.2" x2="738" y2="210.2" stroke="#000" stroke-width="0.8049999999999999" shape-rendering="crispEdges"/>
<line x1="632.8" y1="196.6" x2="632.8" y2="303" stroke="#000" stroke-width="0.8049999999999999" stroke-dasharray="6 2 2 2" shape-rendering="crispEdges"/>
<line x1="663.7" y1="209.9" x2="629.08" y2="239.33" stroke="#000" stroke-width="0.6325"/>
<line x1="629.08" y1="239.33" x2="603.69" y2="260.91" stroke="#000" stroke-width="0.6325" stroke-dasharray="3 1.5"/>
<line x1="603.69" y1="260.91" x2="548.29" y2="308" stroke="#000" stroke-width="0.6325"/>
<line x1="663.7" y1="209.9" x2="634.32" y2="236.93" stroke="#000" stroke-width="0.6325"/>
<line x1="634.32" y1="236.93" x2="612.78" y2="256.75" stroke="#000" stroke-width="0.6325" stroke-dasharray="3 1.5"/>
<line x1="612.78" y1="256.75" x2="565.77" y2="300" stroke="#000" stroke-width="0.6325"/>
<line x1="663.7" y1="209.9" x2="637.31" y2="236.03" stroke="#000" stroke-width="0.6325"/>
<line x1="637.31" y1="236.03" x2="617.95" y2="255.19" stroke="#000" stroke-width="0.6325" stroke-dasharray="3 1.5"/>
<line x1="617.95" y1="255.19" x2="575.72" y2="297" stroke="#000" stroke-width="0.6325"/>
<line x1="663.7" y1="209.9" x2="639.28" y2="236.03" stroke="#000" stroke-width="0.6325"/>
<line x1="639.28" y1="236.03" x2="621.37" y2="255.19" stroke="#000" stroke-width="0.6325" stroke-dasharray="3 1.5"/>
<line x1="621.37" y1="255.19" x2="582.3" y2="297" stroke="#000" stroke-width="0.6325"/>
<line x1="600.2" y1="209.9" x2="624.24" y2="230.33" stroke="#000" stroke-width="0.6325"/>
<line x1="624.24" y1="230.33" x2="641.86" y2="245.31" stroke="#000" stroke-width="0.6325" stroke-dasharray="3 1.5"/>
<line x1="641.86" y1="245.31" x2="680.32" y2="278" stroke="#000" stroke-width="0.6325"/>
<line x1="600.2" y1="209.9" x2="624.04" y2="231.83" stroke="#000" stroke-width="0.6325"/>
<line x1="624.04" y1="231.83" x2="641.52" y2="247.91" stroke="#000" stroke-width="0.6325" stroke-dasharray="3 1.5"/>
<line x1="641.52" y1="247.91" x2="679.66" y2="283" stroke="#000" stroke-width="0.6325"/>
<line x1="600.2" y1="209.9" x2="623.87" y2="233.33" stroke="#000" stroke-width="0.6325"/>
<line x1="623.87" y1="233.33" x2="641.22" y2="250.51" stroke="#000" stroke-width="0.6325" stroke-dasharray="3 1.5"/>
<line x1="641.22" y1="250.51" x2="679.09" y2="288" stroke="#000" stroke-width="0.6325"/>
<line x1="600.2" y1="209.9" x2="623.22" y2="234.53" stroke="#000" stroke-width="0.6325"/>
<line x1="623.22" y1="234.53" x2="640.1" y2="252.59" stroke="#000" stroke-width="0.6325" stroke-dasharray="3 1.5"/>
<line x1="640.1" y1="252.59" x2="676.93" y2="292" stroke="#000" stroke-width="0.6325"/>
<line x1="663.7" y1="209.9" x2="567.3" y2="326.3" stroke="#000" stroke-width="0.69"/>
<line x1="652.8" y1="247" x2="707" y2="278.4" stroke="#000" stroke-width="0.8049999999999999"/>
<rect x="589.6" y="271" width="23" height="6.2" rx="3.1" transform="rotate(41 601.1 274.1)" fill="#fff" stroke="#000" stroke-width="0.9"/>
<rect x="653.5" y="270.1" width="23" height="6.2" rx="3.1" transform="rotate(-41 665 273.2)" fill="#fff" stroke="#000" stroke-width="0.9"/>
<line x1="593.5" y1="267.5" x2="608.7" y2="280.7" stroke="#000" stroke-width="0.575" stroke-dasharray="2 1.5"/>
<line x1="656.3" y1="280.7" x2="673.8" y2="265.6" stroke="#000" stroke-width="0.575" stroke-dasharray="2 1.5"/>
<rect x="615.7" y="290" width="3.8" height="4.4" rx="0" fill="#fff" stroke="#000" stroke-width="0.7"/>
<rect x="646.4" y="290" width="3.8" height="4.4" rx="0" fill="#fff" stroke="#000" stroke-width="0.7"/>
<line x1="593.4" y1="165.2" x2="593.4" y2="202" stroke="#000" stroke-width="0.8049999999999999" shape-rendering="crispEdges"/>
<line x1="672.7" y1="165.2" x2="672.7" y2="210" stroke="#000" stroke-width="0.8049999999999999" shape-rendering="crispEdges"/>
<line x1="593.4" y1="170.3" x2="672.7" y2="170.3" stroke="#000" stroke-width="0.8049999999999999" shape-rendering="crispEdges"/>
<polygon points="593.40,170.30 597.60,168.90 597.60,171.70" fill="#111"/>
<polygon points="672.70,170.30 668.50,171.70 668.50,168.90" fill="#111"/>
<rect x="623" y="164.5" width="19" height="10" rx="0" fill="#fff" stroke="none" stroke-width="0.8"/>
<text transform="translate(632.4 173.28) scale(0.87 1)" x="0" y="0" font-size="9.8" text-anchor="middle" fill="#222">50</text>
<line x1="601.1" y1="180.5" x2="601.1" y2="210" stroke="#000" stroke-width="0.8049999999999999" shape-rendering="crispEdges"/>
<line x1="664.2" y1="180.5" x2="664.2" y2="210" stroke="#000" stroke-width="0.8049999999999999" shape-rendering="crispEdges"/>
<line x1="601.1" y1="186.4" x2="664.2" y2="186.4" stroke="#000" stroke-width="0.8049999999999999" shape-rendering="crispEdges"/>
<polygon points="601.10,186.40 605.30,185.00 605.30,187.80" fill="#111"/>
<polygon points="664.20,186.40 660.00,187.80 660.00,185.00" fill="#111"/>
<rect x="619" y="180.5" width="28" height="10" rx="0" fill="#fff" stroke="none" stroke-width="0.8"/>
<text transform="translate(621.5 189.38) scale(0.87 1)" x="0" y="0" font-size="9.8" text-anchor="start" fill="#222">40</text>
<text transform="translate(631 188.87) scale(1 1)" x="0" y="0" font-size="6" text-anchor="start" fill="#222">±0.1</text>
<line x1="664" y1="202.5" x2="766" y2="202.5" stroke="#000" stroke-width="0.8049999999999999" shape-rendering="crispEdges"/>
<line x1="732" y1="187.5" x2="732" y2="202.5" stroke="#000" stroke-width="0.8049999999999999" shape-rendering="crispEdges"/>
<polygon points="732.00,202.50 730.60,198.30 733.40,198.30" fill="#111"/>
<line x1="732" y1="210.2" x2="732" y2="222" stroke="#000" stroke-width="0.8049999999999999" shape-rendering="crispEdges"/>
<polygon points="732.00,210.20 733.40,214.40 730.60,214.40" fill="#111"/>
<text transform="translate(732 188.08) scale(0.87 1)" x="0" y="0" font-size="9.8" text-anchor="middle" fill="#222">5</text>
<line x1="679.7" y1="297.2" x2="766" y2="297.2" stroke="#000" stroke-width="0.8049999999999999" shape-rendering="crispEdges"/>
<line x1="758.3" y1="202.5" x2="758.3" y2="297.2" stroke="#000" stroke-width="0.8049999999999999" shape-rendering="crispEdges"/>
<polygon points="758.30,202.50 759.70,206.70 756.90,206.70" fill="#111"/>
<polygon points="758.30,297.20 756.90,293.00 759.70,293.00" fill="#111"/>
<rect x="752" y="245" width="14" height="10" rx="0" fill="#fff" stroke="none" stroke-width="0.8"/>
<text transform="translate(759.2 253.58) scale(0.87 1)" x="0" y="0" font-size="9.8" text-anchor="middle" fill="#222">60</text>
<line x1="650" y1="262.3" x2="738.5" y2="262.3" stroke="#000" stroke-width="0.8049999999999999" shape-rendering="crispEdges"/>
<line x1="732" y1="262.3" x2="732" y2="297.2" stroke="#000" stroke-width="0.8049999999999999" shape-rendering="crispEdges"/>
<polygon points="732.00,262.30 733.40,266.50 730.60,266.50" fill="#111"/>
<polygon points="732.00,297.20 730.60,293.00 733.40,293.00" fill="#111"/>
<rect x="722" y="275" width="21" height="10" rx="0" fill="#fff" stroke="none" stroke-width="0.8"/>
<text transform="translate(732.5 283.38) scale(0.87 1)" x="0" y="0" font-size="9.8" text-anchor="middle" fill="#222">21.9</text>
<line x1="553" y1="248.3" x2="612" y2="248.3" stroke="#000" stroke-width="0.8049999999999999" shape-rendering="crispEdges"/>
<line x1="559.5" y1="248.3" x2="559.5" y2="296.6" stroke="#000" stroke-width="0.8049999999999999" shape-rendering="crispEdges"/>
<polygon points="559.50,248.30 560.90,252.50 558.10,252.50" fill="#111"/>
<polygon points="559.50,296.60 558.10,292.40 560.90,292.40" fill="#111"/>
<rect x="549" y="266.5" width="21" height="10" rx="0" fill="#fff" stroke="none" stroke-width="0.8"/>
<text transform="translate(559.3 274.78) scale(0.87 1)" x="0" y="0" font-size="9.8" text-anchor="middle" fill="#222">31.2</text>
<line x1="612.7" y1="248.3" x2="612.7" y2="319.6" stroke="#000" stroke-width="0.8049999999999999" shape-rendering="crispEdges"/>
<line x1="652.9" y1="248.3" x2="652.9" y2="319.6" stroke="#000" stroke-width="0.8049999999999999" shape-rendering="crispEdges"/>
<line x1="612.7" y1="313.2" x2="652.9" y2="313.2" stroke="#000" stroke-width="0.8049999999999999" shape-rendering="crispEdges"/>
<polygon points="612.70,313.20 616.90,311.80 616.90,314.60" fill="#111"/>
<polygon points="652.90,313.20 648.70,314.60 648.70,311.80" fill="#111"/>
<rect x="626" y="308" width="13" height="10" rx="0" fill="#fff" stroke="none" stroke-width="0.8"/>
<text transform="translate(632.4 316.48) scale(0.87 1)" x="0" y="0" font-size="9.8" text-anchor="middle" fill="#222">24</text>
<line x1="586.5" y1="296.6" x2="586.5" y2="336" stroke="#000" stroke-width="0.8049999999999999" shape-rendering="crispEdges"/>
<line x1="679.7" y1="296.6" x2="679.7" y2="336" stroke="#000" stroke-width="0.8049999999999999" shape-rendering="crispEdges"/>
<line x1="586.5" y1="329.4" x2="679.7" y2="329.4" stroke="#000" stroke-width="0.8049999999999999" shape-rendering="crispEdges"/>
<polygon points="586.50,329.40 590.70,328.00 590.70,330.80" fill="#111"/>
<polygon points="679.70,329.40 675.50,330.80 675.50,328.00" fill="#111"/>
<rect x="626" y="324" width="13" height="10" rx="0" fill="#fff" stroke="none" stroke-width="0.8"/>
<text transform="translate(632.4 332.58) scale(0.87 1)" x="0" y="0" font-size="9.8" text-anchor="middle" fill="#222">58</text>
<text transform="translate(679.9 175.04) scale(0.96 1)" x="0" y="0" font-size="9.4" text-anchor="start" fill="#222">Two, R5</text>
<line x1="683" y1="177" x2="665" y2="206" stroke="#000" stroke-width="0.8049999999999999"/>
<polygon points="665.00,206.00 665.83,202.40 667.87,203.66" fill="#111"/>
<text transform="translate(679 229.34) scale(0.96 1)" x="0" y="0" font-size="9.4" text-anchor="start" fill="#222">Two, 4.4 dia.</text>
<line x1="683" y1="221" x2="667" y2="212" stroke="#000" stroke-width="0.8049999999999999"/>
<text transform="translate(528 239.94) scale(0.96 1)" x="0" y="0" font-size="9.4" text-anchor="start" fill="#222">Two, R5.6</text>
<line x1="546" y1="241" x2="597" y2="270" stroke="#000" stroke-width="0.8049999999999999"/>
<polygon points="597.00,270.00 593.36,269.33 594.54,267.24" fill="#111"/>
<text transform="translate(576.2 239.94) scale(0.96 1)" x="0" y="0" font-size="9.4" text-anchor="start" fill="#222">Two, R5</text>
<line x1="602" y1="231" x2="608" y2="222" stroke="#000" stroke-width="0.8049999999999999"/>
<polygon points="608.00,222.00 607.07,225.58 605.07,224.25" fill="#111"/>
<text transform="translate(662.9 240.54) scale(0.96 1)" x="0" y="0" font-size="9.4" text-anchor="start" fill="#222">Two, R5</text>
<line x1="664" y1="241" x2="655" y2="248" stroke="#000" stroke-width="0.8049999999999999"/>
<polygon points="655.00,248.00 657.04,244.91 658.50,246.81" fill="#111"/>
<text transform="translate(626 263.04) scale(0.96 1)" x="0" y="0" font-size="9.4" text-anchor="start" fill="#222">R56.6</text>
<text transform="translate(650 262.67) scale(1 1)" x="0" y="0" font-size="6" text-anchor="start" fill="#222">±0.1</text>
<line x1="646" y1="266" x2="626" y2="290" stroke="#000" stroke-width="0.69"/>
<polygon points="626.00,290.00 627.31,286.54 629.16,288.08" fill="#111"/>
<text transform="translate(695 256.04) scale(0.96 1)" x="0" y="0" font-size="9.4" text-anchor="start" fill="#222">R2.2</text>
<line x1="700" y1="257" x2="671" y2="269" stroke="#000" stroke-width="0.8049999999999999"/>
<polygon points="671.00,269.00 673.78,266.55 674.69,268.77" fill="#111"/>
<text transform="translate(566.8 307.98) scale(0.87 1)" x="0" y="0" font-size="9.8" text-anchor="start" fill="#222">45</text>
<text transform="translate(577 304.57) scale(1 1)" x="0" y="0" font-size="6" text-anchor="start" fill="#222">°</text>
<line x1="554.1" y1="297.4" x2="584.7" y2="297.4" stroke="#000" stroke-width="0.8049999999999999" shape-rendering="crispEdges"/>
<line x1="572.4" y1="285.1" x2="575" y2="287" stroke="#000" stroke-width="0.69"/>
<path d="M 577.4,289.3 Q 583.5,294.5 584.2,302.9" fill="none" stroke="#000" stroke-width="0.8049999999999999" />
<polygon points="577.40,289.30 580.44,290.78 578.88,292.34" fill="#111"/>
<polygon points="584.20,297.80 582.94,294.66 585.14,294.55" fill="#111"/>
<text transform="translate(547.3 322.38) scale(0.87 1)" x="0" y="0" font-size="9.8" text-anchor="start" fill="#222">10</text>
<text transform="translate(557 319.07) scale(1 1)" x="0" y="0" font-size="6" text-anchor="start" fill="#222">°</text>
<line x1="555.4" y1="304.6" x2="570.7" y2="319.9" stroke="#000" stroke-width="0.8049999999999999"/>
<polygon points="555.40,304.60 558.44,306.08 556.88,307.64" fill="#111"/>
<polygon points="570.70,319.90 567.66,318.42 569.22,316.86" fill="#111"/>
<text transform="translate(693 293.38) scale(0.87 1)" x="0" y="0" font-size="9.8" text-anchor="start" fill="#222">60</text>
<text transform="translate(703.5 290.07) scale(1 1)" x="0" y="0" font-size="6" text-anchor="start" fill="#222">°</text>
<path d="M 680.2,290 Q 693.5,287.5 700.5,277.3" fill="none" stroke="#000" stroke-width="0.8049999999999999" />
<polygon points="680.20,290.00 683.39,288.12 683.87,290.48" fill="#111"/>
<polygon points="700.50,277.30 699.57,280.88 697.57,279.55" fill="#111"/>
<text transform="translate(591.3 312.24) scale(0.96 1)" x="0" y="0" font-size="9.4" text-anchor="start" fill="#222">R2.2</text>
<line x1="598" y1="303" x2="604" y2="281" stroke="#000" stroke-width="0.8049999999999999"/>
<polygon points="604.00,281.00 604.24,284.69 601.93,284.06" fill="#111"/>
<text transform="translate(659.7 313.98) scale(0.87 1)" x="0" y="0" font-size="9.8" text-anchor="start" fill="#222">4.4</text>
<line x1="658" y1="306" x2="644" y2="292" stroke="#000" stroke-width="0.8049999999999999"/>
<polygon points="644.00,292.00 647.32,293.63 645.63,295.32" fill="#111"/>
<path d="M 18.1,402 L 18.1,434.2 Q 18.3,438 21.5,438.6 L 33.8,442.3 Q 35.5,442.3 36.5,441.6 L 49.6,434.7 Q 53.5,433.5 54.8,435.5 Q 55,437 53.5,438 L 43.5,444 Q 41,446.5 44,447.3 Q 46,447.5 48,446.8 L 74.5,435.3 Q 76.5,433.5 74.8,432 L 62.5,426 Q 59.5,424 62,423.5 Q 64,423.3 66,424 L 84,430.6 Q 87.5,431 87.8,428.5 Q 87.8,426.8 86,425.9 L 60.8,415.8 L 60,367.5 Q 59.7,365.8 57,365.8 L 55.5,365.8 Q 53.7,366 53.7,367.5 L 53,390 Q 52.5,392.5 50.8,392.5 Q 48.7,392.3 48.7,390 L 46.7,373.3 Q 46,371.3 44.2,371.7 L 18.8,383 Q 17.5,383.7 17.5,385.5 L 17.6,387.5 Q 18.3,389.5 20.5,389.3 L 31,386.5 Q 33.5,386.5 33.5,389.5 Q 33.5,392.8 31.5,393.5 L 20.5,397.5 Q 18.1,398.8 18.1,402 Z" fill="#fff" stroke="#000" stroke-width="1.035" />
<line x1="19.5" y1="436.5" x2="60.8" y2="416" stroke="#000" stroke-width="1.035"/>
<path d="M 80.8,440.2 L 111.5,426.2 A 6.4 6.4 0 0 1 116.9,437.8 L 86.2,451.8 A 6.4 6.4 0 0 1 80.8,440.2 Z" fill="#fff" stroke="#000" stroke-width="1.035" />
<path d="M 77.2,447 Q 78,452.8 86.5,453 L 117.5,439 Q 120.5,436.5 120,433" fill="none" stroke="#000" stroke-width="0.9199999999999999" />
<ellipse cx="88" cy="442.5" rx="6.2" ry="4.2" transform="rotate(-25 88 442.5)" fill="none" stroke="#000" stroke-width="0.9"/>
<ellipse cx="88.4" cy="441.5" rx="3.6" ry="2.3" transform="rotate(-25 88.4 441.5)" fill="none" stroke="#222" stroke-width="1"/>
<ellipse cx="109.7" cy="431.6" rx="6.2" ry="4.2" transform="rotate(-25 109.7 431.6)" fill="none" stroke="#000" stroke-width="0.9"/>
<ellipse cx="110.1" cy="430.6" rx="3.6" ry="2.3" transform="rotate(-25 110.1 430.6)" fill="none" stroke="#222" stroke-width="1"/>
<path d="M 276.6,366.8 L 325.1,366.8 L 325.1,397.4 Q 325.1,399.4 323.1,399.4 L 320.3,399.4 Q 318.3,399.4 318.3,397.4 L 318.3,399.4 L 309.9,399.4 L 278.6,399.4 Q 276.6,399.4 276.6,397.4 Z" fill="#dcdcdf" stroke="none" stroke-width="0.9199999999999999" />
<path d="M 276.6,384.2 L 291.2,384.2 A 4.55 4.55 0 0 1 291.2,393.3 L 276.6,393.3 Z" fill="#fff" stroke="none" stroke-width="0.9199999999999999" />
<path d="M 309.9,399.6 L 309.9,384.4 A 4.2 4.2 0 0 1 318.3,384.4 L 318.3,399.6 Z" fill="#fff" stroke="none" stroke-width="0.9199999999999999" />
<line x1="239.1" y1="369.2" x2="362.5" y2="369.2" stroke="#000" stroke-width="0.9199999999999999" shape-rendering="crispEdges"/>
<line x1="309.5" y1="366.8" x2="309.5" y2="369.2" stroke="#000" stroke-width="0.69" shape-rendering="crispEdges"/>
<line x1="318.7" y1="366.8" x2="318.7" y2="369.2" stroke="#000" stroke-width="0.69" shape-rendering="crispEdges"/>
<line x1="276.6" y1="369.2" x2="276.6" y2="384.2" stroke="#888" stroke-width="0.8049999999999999" shape-rendering="crispEdges"/>
<line x1="256.5" y1="384.2" x2="291.2" y2="384.2" stroke="#000" stroke-width="1.035" shape-rendering="crispEdges"/>
<line x1="256.5" y1="393.3" x2="276.6" y2="393.3" stroke="#000" stroke-width="1.035" shape-rendering="crispEdges"/>
<path d="M 291.2,384.2 A 4.55 4.55 0 0 1 291.2,393.3 L 276.6,393.3" fill="none" stroke="#666" stroke-width="0.8049999999999999" />
<path d="M 276.6,393.3 L 276.6,397.4 Q 276.6,399.4 278.6,399.4" fill="none" stroke="#888" stroke-width="0.8049999999999999" />
<line x1="278.6" y1="399.4" x2="309.9" y2="399.4" stroke="#000" stroke-width="1.035" shape-rendering="crispEdges"/>
<path d="M 309.9,413.1 L 309.9,384.4 A 4.2 4.2 0 0 1 318.3,384.4 L 318.3,413.1" fill="none" stroke="#000" stroke-width="1.035" />
<path d="M 318.3,399.4 L 323.1,399.4 Q 325.1,399.4 325.1,397.4 L 325.1,369.2" fill="none" stroke="#888" stroke-width="0.8049999999999999" />
<line x1="325.1" y1="399.4" x2="362.5" y2="399.4" stroke="#000" stroke-width="0.9199999999999999" shape-rendering="crispEdges"/>
<line x1="239.1" y1="388.4" x2="298.6" y2="388.4" stroke="#000" stroke-width="0.8049999999999999" shape-rendering="crispEdges"/>
<line x1="314.1" y1="376.5" x2="314.1" y2="423.1" stroke="#000" stroke-width="0.8049999999999999" shape-rendering="crispEdges"/>
<line x1="305" y1="384.2" x2="346.1" y2="384.2" stroke="#000" stroke-width="0.8049999999999999" shape-rendering="crispEdges"/>
<line x1="291.2" y1="384" x2="291.2" y2="413" stroke="#000" stroke-width="0.8049999999999999" shape-rendering="crispEdges"/>
<line x1="276.6" y1="399.4" x2="276.6" y2="423.1" stroke="#000" stroke-width="0.8049999999999999" shape-rendering="crispEdges"/>
<line x1="242.4" y1="369.2" x2="242.4" y2="388.4" stroke="#000" stroke-width="0.8049999999999999" shape-rendering="crispEdges"/>
<polygon points="242.40,369.20 243.80,373.40 241.00,373.40" fill="#111"/>
<polygon points="242.40,388.40 241.00,384.20 243.80,384.20" fill="#111"/>
<rect x="238.5" y="373.5" width="8" height="9.5" rx="0" fill="#fff" stroke="none" stroke-width="0.8"/>
<text transform="translate(242.8 381.68) scale(0.87 1)" x="0" y="0" font-size="9.8" text-anchor="middle" fill="#222">7</text>
<line x1="259.3" y1="374.7" x2="259.3" y2="399.4" stroke="#000" stroke-width="0.8049999999999999" shape-rendering="crispEdges"/>
<polygon points="259.30,384.20 257.90,380.00 260.70,380.00" fill="#111"/>
<polygon points="259.30,393.30 260.70,397.50 257.90,397.50" fill="#111"/>
<text transform="translate(260.2 407.88) scale(0.87 1)" x="0" y="0" font-size="9.8" text-anchor="middle" fill="#222">3.2</text>
<line x1="358.9" y1="369.2" x2="358.9" y2="399.4" stroke="#000" stroke-width="0.8049999999999999" shape-rendering="crispEdges"/>
<polygon points="358.90,369.20 360.30,373.40 357.50,373.40" fill="#111"/>
<polygon points="358.90,399.40 357.50,395.20 360.30,395.20" fill="#111"/>
<rect x="353" y="379" width="12" height="9.5" rx="0" fill="#fff" stroke="none" stroke-width="0.8"/>
<text transform="translate(358.9 387.18) scale(0.87 1)" x="0" y="0" font-size="9.8" text-anchor="middle" fill="#222">11</text>
<line x1="341.5" y1="369.2" x2="341.5" y2="384.2" stroke="#000" stroke-width="0.8049999999999999" shape-rendering="crispEdges"/>
<polygon points="341.50,369.20 342.90,373.40 340.10,373.40" fill="#111"/>
<polygon points="341.50,384.20 340.10,380.00 342.90,380.00" fill="#111"/>
<text transform="translate(338 380.38) scale(0.87 1)" x="0" y="0" font-size="9.8" text-anchor="middle" fill="#222">5</text>
<text transform="translate(345.5 380.38) scale(0.87 1)" x="0" y="0" font-size="9.8" text-anchor="middle" fill="#222">5</text>
<line x1="276.6" y1="410" x2="291.2" y2="410" stroke="#000" stroke-width="0.8049999999999999" shape-rendering="crispEdges"/>
<polygon points="276.60,410.00 280.80,408.60 280.80,411.40" fill="#111"/>
<polygon points="291.20,410.00 287.00,411.40 287.00,408.60" fill="#111"/>
<text transform="translate(283.4 407.88) scale(0.87 1)" x="0" y="0" font-size="9.8" text-anchor="middle" fill="#222">5</text>
<line x1="300.5" y1="409.4" x2="309.9" y2="409.4" stroke="#000" stroke-width="0.8049999999999999" shape-rendering="crispEdges"/>
<polygon points="309.90,409.40 305.70,410.80 305.70,408.00" fill="#111"/>
<line x1="318.3" y1="409.4" x2="327" y2="409.4" stroke="#000" stroke-width="0.8049999999999999" shape-rendering="crispEdges"/>
<polygon points="318.30,409.40 322.50,408.00 322.50,410.80" fill="#111"/>
<text transform="translate(327.5 412.78) scale(0.87 1)" x="0" y="0" font-size="9.8" text-anchor="start" fill="#222">3.2</text>
<line x1="276.6" y1="419.8" x2="314.1" y2="419.8" stroke="#000" stroke-width="0.8049999999999999" shape-rendering="crispEdges"/>
<polygon points="276.60,419.80 280.80,418.40 280.80,421.20" fill="#111"/>
<polygon points="314.10,419.80 309.90,421.20 309.90,418.40" fill="#111"/>
<rect x="286" y="415" width="20" height="9.5" rx="0" fill="#fff" stroke="none" stroke-width="0.8"/>
<text transform="translate(295.8 423.18) scale(0.87 1)" x="0" y="0" font-size="9.8" text-anchor="middle" fill="#222">13.5</text>
<text transform="translate(307.7 363.24) scale(0.96 1)" x="0" y="0" font-size="9.4" text-anchor="start" fill="#222">R1.6</text>
<line x1="307.7" y1="363.7" x2="292.2" y2="385.6" stroke="#000" stroke-width="0.8049999999999999"/>
<polygon points="292.20,385.60 293.24,382.05 295.20,383.44" fill="#111"/>
<path d="M 278.6,441.9 L 323,441.9 Q 324.7,441.9 324.7,443.9 L 324.7,487.3 L 276.6,487.3 L 276.6,443.9 Q 276.6,441.9 278.6,441.9 Z" fill="#dcdcdf" stroke="none" stroke-width="0.9199999999999999" />
<path d="M 276.6,449.3 L 291.2,449.3 A 4.1 4.1 0 0 1 291.2,457.5 L 276.6,457.5 Z" fill="#fff" stroke="none" stroke-width="0.9199999999999999" />
<path d="M 309.9,441.5 L 309.9,457 A 4.2 4.2 0 0 0 318.3,457 L 318.3,441.5 Z" fill="#fff" stroke="none" stroke-width="0.9199999999999999" />
<line x1="276.6" y1="420" x2="276.6" y2="441.9" stroke="#000" stroke-width="0.9199999999999999" shape-rendering="crispEdges"/>
<path d="M 276.6,449.3 L 276.6,443.9 Q 276.6,441.9 278.6,441.9 L 309.9,441.9 M 318.3,441.9 L 322.7,441.9 Q 324.7,441.9 324.7,443.9" fill="none" stroke="#888" stroke-width="0.8049999999999999" />
<line x1="256.5" y1="449.3" x2="276.6" y2="449.3" stroke="#000" stroke-width="1.035" shape-rendering="crispEdges"/>
<line x1="256.5" y1="457.5" x2="276.6" y2="457.5" stroke="#000" stroke-width="1.035" shape-rendering="crispEdges"/>
<path d="M 276.6,449.3 L 291.2,449.3 A 4.1 4.1 0 0 1 291.2,457.5 L 276.6,457.5" fill="none" stroke="#666" stroke-width="0.8049999999999999" />
<line x1="276.6" y1="457.5" x2="276.6" y2="484.9" stroke="#888" stroke-width="0.8049999999999999" shape-rendering="crispEdges"/>
<line x1="276.6" y1="484.9" x2="276.6" y2="501.4" stroke="#000" stroke-width="0.9199999999999999" shape-rendering="crispEdges"/>
<line x1="309.9" y1="427.3" x2="309.9" y2="441.9" stroke="#000" stroke-width="1.035" shape-rendering="crispEdges"/>
<line x1="318.3" y1="427.3" x2="318.3" y2="441.9" stroke="#000" stroke-width="1.035" shape-rendering="crispEdges"/>
<path d="M 309.9,441.9 L 309.9,457 A 4.2 4.2 0 0 0 318.3,457 L 318.3,441.9" fill="none" stroke="#666" stroke-width="0.8049999999999999" />
<line x1="324.7" y1="441.9" x2="367.1" y2="441.9" stroke="#000" stroke-width="0.9199999999999999" shape-rendering="crispEdges"/>
<line x1="324.7" y1="443.9" x2="324.7" y2="501.4" stroke="#000" stroke-width="0.9199999999999999" shape-rendering="crispEdges"/>
<line x1="239.1" y1="484.9" x2="367.1" y2="484.9" stroke="#000" stroke-width="0.9199999999999999" shape-rendering="crispEdges"/>
<line x1="276.6" y1="487.3" x2="324.7" y2="487.3" stroke="#000" stroke-width="0.69" shape-rendering="crispEdges"/>
<line x1="309.5" y1="484.9" x2="309.5" y2="487.3" stroke="#000" stroke-width="0.69" shape-rendering="crispEdges"/>
<line x1="318.7" y1="484.9" x2="318.7" y2="487.3" stroke="#000" stroke-width="0.69" shape-rendering="crispEdges"/>
<line x1="239.1" y1="453.5" x2="297.6" y2="453.5" stroke="#000" stroke-width="0.8049999999999999" shape-rendering="crispEdges"/>
<line x1="314.1" y1="428.2" x2="314.1" y2="464.8" stroke="#000" stroke-width="0.8049999999999999" shape-rendering="crispEdges"/>
<line x1="305.9" y1="457.1" x2="346.1" y2="457.1" stroke="#000" stroke-width="0.8049999999999999" shape-rendering="crispEdges"/>
<line x1="291.2" y1="431.9" x2="291.2" y2="461.1" stroke="#000" stroke-width="0.8049999999999999" shape-rendering="crispEdges"/>
<line x1="242.8" y1="453.5" x2="242.8" y2="484.9" stroke="#000" stroke-width="0.8049999999999999" shape-rendering="crispEdges"/>
<polygon points="242.80,453.50 244.20,457.70 241.40,457.70" fill="#111"/>
<polygon points="242.80,484.90 241.40,480.70 244.20,480.70" fill="#111"/>
<rect x="232.5" y="464" width="21" height="9.5" rx="0" fill="#fff" stroke="none" stroke-width="0.8"/>
<text transform="translate(242.8 472.38) scale(0.87 1)" x="0" y="0" font-size="9.8" text-anchor="middle" fill="#222">11.5</text>
<line x1="259.3" y1="443.8" x2="259.3" y2="465.7" stroke="#000" stroke-width="0.8049999999999999" shape-rendering="crispEdges"/>
<polygon points="259.30,449.30 257.90,445.10 260.70,445.10" fill="#111"/>
<polygon points="259.30,457.50 260.70,461.70 257.90,461.70" fill="#111"/>
<text transform="translate(260.2 440.78) scale(0.87 1)" x="0" y="0" font-size="9.8" text-anchor="middle" fill="#222">3.2</text>
<line x1="341.9" y1="457.1" x2="341.9" y2="484.9" stroke="#000" stroke-width="0.8049999999999999" shape-rendering="crispEdges"/>
<polygon points="341.90,457.10 343.30,461.30 340.50,461.30" fill="#111"/>
<polygon points="341.90,484.90 340.50,480.70 343.30,480.70" fill="#111"/>
<rect x="335.5" y="465.5" width="13" height="9.5" rx="0" fill="#fff" stroke="none" stroke-width="0.8"/>
<text transform="translate(341.9 473.68) scale(0.87 1)" x="0" y="0" font-size="9.8" text-anchor="middle" fill="#222">10</text>
<line x1="358.9" y1="441.9" x2="358.9" y2="484.9" stroke="#000" stroke-width="0.8049999999999999" shape-rendering="crispEdges"/>
<polygon points="358.90,441.90 360.30,446.10 357.50,446.10" fill="#111"/>
<polygon points="358.90,484.90 357.50,480.70 360.30,480.70" fill="#111"/>
<rect x="348.5" y="457.5" width="21" height="9.5" rx="0" fill="#fff" stroke="none" stroke-width="0.8"/>
<text transform="translate(358.9 465.78) scale(0.87 1)" x="0" y="0" font-size="9.8" text-anchor="middle" fill="#222">15.5</text>
<line x1="276.6" y1="498.2" x2="324.7" y2="498.2" stroke="#000" stroke-width="0.8049999999999999" shape-rendering="crispEdges"/>
<polygon points="276.60,498.20 280.80,496.80 280.80,499.60" fill="#111"/>
<polygon points="324.70,498.20 320.50,499.60 320.50,496.80" fill="#111"/>
<rect x="290" y="493.5" width="21" height="9.5" rx="0" fill="#fff" stroke="none" stroke-width="0.8"/>
<text transform="translate(300.4 501.58) scale(0.87 1)" x="0" y="0" font-size="9.8" text-anchor="middle" fill="#222">17.5</text>
<line x1="276.6" y1="432.4" x2="291.2" y2="432.4" stroke="#000" stroke-width="0.8049999999999999" shape-rendering="crispEdges"/>
<polygon points="276.60,432.40 280.80,431.00 280.80,433.80" fill="#111"/>
<polygon points="291.20,432.40 287.00,433.80 287.00,431.00" fill="#111"/>
<text transform="translate(283.4 431.08) scale(0.87 1)" x="0" y="0" font-size="9.8" text-anchor="middle" fill="#222">5</text>
<line x1="301" y1="431" x2="309.9" y2="431" stroke="#000" stroke-width="0.8049999999999999" shape-rendering="crispEdges"/>
<polygon points="309.90,431.00 305.70,432.40 305.70,429.60" fill="#111"/>
<line x1="318.3" y1="431" x2="327" y2="431" stroke="#000" stroke-width="0.8049999999999999" shape-rendering="crispEdges"/>
<polygon points="318.30,431.00 322.50,429.60 322.50,432.40" fill="#111"/>
<text transform="translate(327.5 434.38) scale(0.87 1)" x="0" y="0" font-size="9.8" text-anchor="start" fill="#222">3.2</text>
<text transform="translate(293.1 440.30) scale(0.95 1)" x="0" y="0" font-size="8.4" text-anchor="start" fill="#222">R1.6</text>
<line x1="297.3" y1="441.6" x2="292.2" y2="451.1" stroke="#000" stroke-width="0.8049999999999999"/>
<polygon points="292.20,451.10 292.64,447.94 294.58,448.97" fill="#111"/>
<text transform="translate(200.2 427.58) scale(0.87 1)" x="0" y="0" font-size="9.8" text-anchor="middle" fill="#222">1</text>
<line x1="190.2" y1="432.5" x2="210.7" y2="432.5" stroke="#000" stroke-width="0.8049999999999999" shape-rendering="crispEdges"/>
<polygon points="199.20,432.50 195.00,433.90 195.00,431.10" fill="#111"/>
<polygon points="201.70,432.50 205.90,431.10 205.90,433.90" fill="#111"/>
<line x1="199.2" y1="428" x2="199.2" y2="440.7" stroke="#000" stroke-width="0.69" shape-rendering="crispEdges"/>
<line x1="201.7" y1="428" x2="201.7" y2="440.7" stroke="#000" stroke-width="0.69" shape-rendering="crispEdges"/>
<path d="M 199.2,442.2 L 199.2,482.5 Q 199.2,487.7 204.4,487.7 L 232.5,487.7 L 232.5,485 L 205.5,485 Q 201.7,485 201.7,481.2 L 201.7,442.2 Z" fill="#dcdcdf" stroke="#000" stroke-width="0.9199999999999999" />
<line x1="192" y1="453.5" x2="208.8" y2="453.5" stroke="#000" stroke-width="0.8049999999999999" shape-rendering="crispEdges"/>
<line x1="199.2" y1="449" x2="201.7" y2="449" stroke="#fff" stroke-width="0.69" shape-rendering="crispEdges"/>
<line x1="199.2" y1="457.7" x2="201.7" y2="457.7" stroke="#fff" stroke-width="0.69" shape-rendering="crispEdges"/>
<line x1="221.2" y1="478.2" x2="221.2" y2="494.7" stroke="#000" stroke-width="0.8049999999999999" shape-rendering="crispEdges"/>
<line x1="216.7" y1="485" x2="216.7" y2="487.7" stroke="#000" stroke-width="0.69" shape-rendering="crispEdges"/>
<line x1="225" y1="485" x2="225" y2="487.7" stroke="#000" stroke-width="0.69" shape-rendering="crispEdges"/>
<line x1="181" y1="512.4" x2="375" y2="512.4" stroke="#000" stroke-width="1.4" stroke-dasharray="3.7 5.07" stroke-dashoffset="2.7"/>
<path d="M 284.6,540 L 314.1,540 A 7.95 7.95 0 0 1 314.1,555.9 L 284.6,555.9 A 7.95 7.95 0 0 1 284.6,540 Z" fill="#dcdcdf" stroke="#888" stroke-width="1.035" />
<circle cx="286.6" cy="547.7" r="6.8" fill="none" stroke="#444" stroke-width="0.9"/>
<circle cx="286.6" cy="547.7" r="5.0" fill="none" stroke="#333" stroke-width="0.9"/>
<circle cx="286.6" cy="547.7" r="3.2" fill="none" stroke="#333" stroke-width="0.9"/>
<circle cx="286.6" cy="547.7" r="1.7" fill="#fff" stroke="#fff" stroke-width="0.5"/>
<circle cx="313.8" cy="547.7" r="6.8" fill="none" stroke="#444" stroke-width="0.9"/>
<circle cx="313.8" cy="547.7" r="5.0" fill="none" stroke="#333" stroke-width="0.9"/>
<circle cx="313.8" cy="547.7" r="3.2" fill="none" stroke="#333" stroke-width="0.9"/>
<circle cx="313.8" cy="547.7" r="1.7" fill="#fff" stroke="#fff" stroke-width="0.5"/>
<line x1="274.3" y1="547.7" x2="325.4" y2="547.7" stroke="#000" stroke-width="0.8049999999999999" shape-rendering="crispEdges"/>
<line x1="286.6" y1="525" x2="286.6" y2="560" stroke="#000" stroke-width="0.8049999999999999" shape-rendering="crispEdges"/>
<line x1="313.8" y1="525" x2="313.8" y2="560" stroke="#000" stroke-width="0.8049999999999999" shape-rendering="crispEdges"/>
<line x1="301" y1="536.6" x2="301" y2="558.8" stroke="#000" stroke-width="0.8049999999999999" shape-rendering="crispEdges"/>
<line x1="286.6" y1="530" x2="313.8" y2="530" stroke="#000" stroke-width="0.8049999999999999" shape-rendering="crispEdges"/>
<polygon points="286.60,530.00 290.80,528.60 290.80,531.40" fill="#111"/>
<polygon points="313.80,530.00 309.60,531.40 309.60,528.60" fill="#111"/>
<rect x="287.5" y="517.5" width="26" height="10" rx="0" fill="#fff" stroke="none" stroke-width="0.8"/>
<text transform="translate(287 526.28) scale(0.87 1)" x="0" y="0" font-size="9.8" text-anchor="start" fill="#222">10±0.1</text>
<text transform="translate(271 532.14) scale(0.96 1)" x="0" y="0" font-size="9.4" text-anchor="start" fill="#222">R3</text>
<text transform="translate(318.7 532.14) scale(0.96 1)" x="0" y="0" font-size="9.4" text-anchor="start" fill="#222">2-M3</text>
<line x1="278" y1="533" x2="285" y2="544" stroke="#000" stroke-width="0.8049999999999999"/>
<polygon points="285.00,544.00 282.45,542.07 284.30,540.88" fill="#111"/>
<line x1="322" y1="533" x2="315" y2="544" stroke="#000" stroke-width="0.8049999999999999"/>
<polygon points="315.00,544.00 315.70,540.88 317.55,542.07" fill="#111"/>
<line x1="322.1" y1="540" x2="343" y2="540" stroke="#000" stroke-width="0.8049999999999999" shape-rendering="crispEdges"/>
<line x1="322.1" y1="555.9" x2="343" y2="555.9" stroke="#000" stroke-width="0.8049999999999999" shape-rendering="crispEdges"/>
<line x1="338.7" y1="540" x2="338.7" y2="555.9" stroke="#000" stroke-width="0.8049999999999999" shape-rendering="crispEdges"/>
<polygon points="338.70,540.00 339.80,543.20 337.60,543.20" fill="#111"/>
<polygon points="338.70,555.90 337.60,552.70 339.80,552.70" fill="#111"/>
<rect x="335.5" y="542.5" width="6.5" height="10" rx="0" fill="#fff" stroke="none" stroke-width="0.8"/>
<text transform="translate(338.7 550.56) scale(1 1)" x="0" y="0" font-size="8" text-anchor="middle" fill="#222">6</text>
<text transform="translate(226.6 563.84) scale(0.96 1)" x="0" y="0" font-size="9.4" text-anchor="start" fill="#222">4.5 dia. max.</text>
<line x1="277" y1="560" x2="285" y2="552" stroke="#000" stroke-width="0.8049999999999999"/>
<text transform="translate(226.6 573.14) scale(0.96 1)" x="0" y="0" font-size="9.4" text-anchor="start" fill="#222">Pushing out height: 0.6 min.</text>
<text transform="translate(255 585.38) scale(0.87 1)" x="0" y="0" font-size="9.8" text-anchor="middle" fill="#222">1</text>
<path d="M 257.4,581 L 279.3,581 L 279.8,579.2 L 292.9,579.2 L 292.9,581 L 307.5,581 L 308,579.2 L 321.1,579.2 L 321.1,581 L 321.6,581 L 321.6,583.4 L 257.4,583.4 Z" fill="#fff" stroke="#000" stroke-width="0.9199999999999999" />
<line x1="279.3" y1="581" x2="321.6" y2="581" stroke="#000" stroke-width="0.69" shape-rendering="crispEdges"/>
<line x1="261.4" y1="573.1" x2="261.4" y2="592.5" stroke="#000" stroke-width="0.9199999999999999" shape-rendering="crispEdges"/>
<polygon points="261.40,581.00 260.40,578.00 262.40,578.00" fill="#111"/>
<polygon points="261.40,583.40 262.40,586.40 260.40,586.40" fill="#111"/>
<line x1="286.4" y1="574.7" x2="286.4" y2="587.8" stroke="#000" stroke-width="0.9199999999999999" shape-rendering="crispEdges"/>
<line x1="313.3" y1="574.7" x2="313.3" y2="587.8" stroke="#000" stroke-width="0.9199999999999999" shape-rendering="crispEdges"/>
<path d="M 413.2,465.2 L 412.8,418.1 L 423.8,414 Q 427.5,411.5 427.8,407.5 Q 427.8,404.3 424.5,404.3 L 414.5,406.5 Q 412.8,406.8 412.8,405 L 412.8,401.5 Q 412.9,399.6 415,399 L 461,379.6 Q 462.5,379.2 462.6,381 L 464.5,398.5 Q 465.5,401.5 467.6,401.4 Q 470.3,401 470.3,398.5 L 470.3,377.5 Q 470.3,375.8 471.8,375.5 L 473.5,374.8 Q 475.5,374.8 475.5,376.8 L 475.9,437.8 L 500.5,448 Q 503.5,450 502,452.3 Q 500.5,453.5 498.5,453 L 481.5,446.3 Q 477.5,445.3 476.8,447.3 Q 476.5,448.5 478,449.3 L 489.5,454 Q 492,456 489.6,457.5 L 439.5,478.8 Q 436.5,479.3 436.2,477.4 Q 436,476 437.5,474.9 L 445,470 Q 447.5,468.5 446.3,467.3 Q 445,466.3 443.5,466.8 L 429,473 Q 427,474 425,473.5 L 417.5,470 Q 413.5,468.5 413.2,465.2 Z" fill="#000" stroke="#000" stroke-width="0.9199999999999999" />
<path d="M 414.4,464.6 L 474.9,438.3" fill="none" stroke="#fff" stroke-width="1.035" />
<path d="M 414.3,418.8 L 414.3,464 Q 414.6,468 418,469.3" fill="none" stroke="#fff" stroke-width="0.8049999999999999" />
<path d="M 478.5,446.8 L 498.5,452.2 M 438.5,477.3 L 489.2,455.5 M 414.5,401.2 L 461,381.6" fill="none" stroke="#fff" stroke-width="0.9199999999999999" />
<path d="M 463.3,381.5 L 465.8,398.5 Q 466.8,400.5 468.2,399" fill="none" stroke="#fff" stroke-width="0.8049999999999999" />
<path d="M 414.5,405.2 L 424.5,403 Q 426.5,403.2 426.5,406.5 Q 426.3,410 423,412.5 L 414.3,416.3" fill="none" stroke="#fff" stroke-width="0.8049999999999999" />
<path d="M 429.5,472 L 443.8,465.8 Q 446,465.5 446.5,467" fill="none" stroke="#fff" stroke-width="0.69" />
<path d="M 471.3,377 L 471.3,397 M 472,376.3 L 474.5,375.5" fill="none" stroke="#fff" stroke-width="0.69" />
<path d="M 636.4,376.6 L 710.4,376.6 L 710.4,406.6 Q 710.4,408.6 708.4,408.6 L 638.4,408.6 Q 636.4,408.6 636.4,406.6 Z" fill="#dcdcdf" stroke="#aaa" stroke-width="0.69" />
<path d="M 636.4,393.3 L 648.1,393.3 A 4.7 4.7 0 0 1 648.1,402.7 L 636.4,402.7 Z" fill="#fff" stroke="none" stroke-width="0.9199999999999999" />
<path d="M 695.1,409 L 695.1,393.5 A 4.5 4.5 0 0 1 704.1,393.5 L 704.1,409 Z" fill="#fff" stroke="none" stroke-width="0.9199999999999999" />
<line x1="615.2" y1="376.4" x2="748" y2="376.4" stroke="#000" stroke-width="0.9199999999999999" shape-rendering="crispEdges"/>
<line x1="636.4" y1="379.5" x2="710.4" y2="379.5" stroke="#000" stroke-width="0.9199999999999999" shape-rendering="crispEdges"/>
<line x1="694.7" y1="376.6" x2="694.7" y2="379.7" stroke="#000" stroke-width="0.69" shape-rendering="crispEdges"/>
<line x1="703.4" y1="376.6" x2="703.4" y2="379.7" stroke="#000" stroke-width="0.69" shape-rendering="crispEdges"/>
<line x1="636.4" y1="376.4" x2="636.4" y2="393.3" stroke="#000" stroke-width="1.035" shape-rendering="crispEdges"/>
<line x1="598.8" y1="393.3" x2="636.4" y2="393.3" stroke="#000" stroke-width="1.035" shape-rendering="crispEdges"/>
<line x1="598.8" y1="402.7" x2="636.4" y2="402.7" stroke="#000" stroke-width="1.035" shape-rendering="crispEdges"/>
<path d="M 636.4,393.3 L 648.1,393.3 A 4.7 4.7 0 0 1 648.1,402.7 L 636.4,402.7" fill="none" stroke="#666" stroke-width="0.8049999999999999" />
<path d="M 636.4,402.7 L 636.4,406.6 Q 636.4,408.6 638.4,408.6 L 695.1,408.6" fill="none" stroke="#000" stroke-width="1.035" />
<path d="M 695.1,423.1 L 695.1,393.5 A 4.5 4.5 0 0 1 704.1,393.5 L 704.1,423.1" fill="none" stroke="#000" stroke-width="1.035" />
<path d="M 704.1,408.6 L 708.4,408.6 Q 710.4,408.6 710.4,406.6" fill="none" stroke="#888" stroke-width="0.8049999999999999" />
<line x1="710.4" y1="408.6" x2="748" y2="408.6" stroke="#000" stroke-width="0.9199999999999999" shape-rendering="crispEdges"/>
<line x1="615.2" y1="398" x2="656.4" y2="398" stroke="#000" stroke-width="0.8049999999999999" shape-rendering="crispEdges"/>
<line x1="699.6" y1="385" x2="699.6" y2="433.7" stroke="#000" stroke-width="0.8049999999999999" shape-rendering="crispEdges"/>
<line x1="690.4" y1="393.8" x2="730.4" y2="393.8" stroke="#000" stroke-width="0.8049999999999999" shape-rendering="crispEdges"/>
<line x1="648.1" y1="390" x2="648.1" y2="423.1" stroke="#000" stroke-width="0.8049999999999999" shape-rendering="crispEdges"/>
<line x1="636.4" y1="408.6" x2="636.4" y2="443.1" stroke="#000" stroke-width="0.8049999999999999" shape-rendering="crispEdges"/>
<line x1="710.4" y1="408.6" x2="710.4" y2="443.1" stroke="#000" stroke-width="0.8049999999999999" shape-rendering="crispEdges"/>
<line x1="618.8" y1="376.4" x2="618.8" y2="398" stroke="#000" stroke-width="0.8049999999999999" shape-rendering="crispEdges"/>
<polygon points="618.80,376.40 620.20,380.60 617.40,380.60" fill="#111"/>
<polygon points="618.80,398.00 617.40,393.80 620.20,393.80" fill="#111"/>
<rect x="615.5" y="382" width="8" height="9.5" rx="0" fill="#fff" stroke="none" stroke-width="0.8"/>
<text transform="translate(619.5 390.08) scale(0.87 1)" x="0" y="0" font-size="9.8" text-anchor="middle" fill="#222">8</text>
<line x1="602.3" y1="386.7" x2="602.3" y2="411.4" stroke="#000" stroke-width="0.8049999999999999" shape-rendering="crispEdges"/>
<polygon points="602.30,393.30 600.90,389.10 603.70,389.10" fill="#111"/>
<polygon points="602.30,402.70 603.70,406.90 600.90,406.90" fill="#111"/>
<text transform="translate(601.7 383.78) scale(0.87 1)" x="0" y="0" font-size="9.8" text-anchor="middle" fill="#222">3.2</text>
<line x1="727.6" y1="376.4" x2="727.6" y2="393.8" stroke="#000" stroke-width="0.8049999999999999" shape-rendering="crispEdges"/>
<polygon points="727.60,376.40 729.00,380.60 726.20,380.60" fill="#111"/>
<polygon points="727.60,393.80 726.20,389.60 729.00,389.60" fill="#111"/>
<text transform="translate(723.5 387.78) scale(0.87 1)" x="0" y="0" font-size="9.8" text-anchor="middle" fill="#222">6</text>
<text transform="translate(731.5 387.78) scale(0.87 1)" x="0" y="0" font-size="9.8" text-anchor="middle" fill="#222">5</text>
<line x1="743.8" y1="376.4" x2="743.8" y2="408.6" stroke="#000" stroke-width="0.8049999999999999" shape-rendering="crispEdges"/>
<polygon points="743.80,376.40 745.20,380.60 742.40,380.60" fill="#111"/>
<polygon points="743.80,408.60 742.40,404.40 745.20,404.40" fill="#111"/>
<rect x="738.5" y="388" width="13" height="9.5" rx="0" fill="#fff" stroke="none" stroke-width="0.8"/>
<text transform="translate(744.5 395.98) scale(0.87 1)" x="0" y="0" font-size="9.8" text-anchor="middle" fill="#222">12</text>
<line x1="627" y1="418.9" x2="636.4" y2="418.9" stroke="#000" stroke-width="0.8049999999999999" shape-rendering="crispEdges"/>
<polygon points="636.40,418.90 632.20,420.30 632.20,417.50" fill="#111"/>
<line x1="648.1" y1="418.9" x2="657" y2="418.9" stroke="#000" stroke-width="0.8049999999999999" shape-rendering="crispEdges"/>
<polygon points="648.10,418.90 652.30,417.50 652.30,420.30" fill="#111"/>
<text transform="translate(642.3 422.28) scale(0.87 1)" x="0" y="0" font-size="9.8" text-anchor="middle" fill="#222">4.5</text>
<line x1="686" y1="418.9" x2="695.1" y2="418.9" stroke="#000" stroke-width="0.8049999999999999" shape-rendering="crispEdges"/>
<polygon points="695.10,418.90 690.90,420.30 690.90,417.50" fill="#111"/>
<line x1="704.1" y1="418.9" x2="712" y2="418.9" stroke="#000" stroke-width="0.8049999999999999" shape-rendering="crispEdges"/>
<polygon points="704.10,418.90 708.30,417.50 708.30,420.30" fill="#111"/>
<text transform="translate(712.8 422.28) scale(0.87 1)" x="0" y="0" font-size="9.8" text-anchor="start" fill="#222">3.2</text>
<line x1="636.4" y1="429" x2="699.6" y2="429" stroke="#000" stroke-width="0.8049999999999999" shape-rendering="crispEdges"/>
<polygon points="636.40,429.00 640.60,427.60 640.60,430.40" fill="#111"/>
<polygon points="699.60,429.00 695.40,430.40 695.40,427.60" fill="#111"/>
<rect x="661.5" y="424" width="13" height="9.5" rx="0" fill="#fff" stroke="none" stroke-width="0.8"/>
<text transform="translate(668.1 432.38) scale(0.87 1)" x="0" y="0" font-size="9.8" text-anchor="middle" fill="#222">23</text>
<line x1="636.4" y1="439.6" x2="710.4" y2="439.6" stroke="#000" stroke-width="0.8049999999999999" shape-rendering="crispEdges"/>
<polygon points="636.40,439.60 640.60,438.20 640.60,441.00" fill="#111"/>
<polygon points="710.40,439.60 706.20,441.00 706.20,438.20" fill="#111"/>
<rect x="666.5" y="434.5" width="13" height="9.5" rx="0" fill="#fff" stroke="none" stroke-width="0.8"/>
<text transform="translate(672.8 442.98) scale(0.87 1)" x="0" y="0" font-size="9.8" text-anchor="middle" fill="#222">27</text>
<text transform="translate(665.8 372.84) scale(0.96 1)" x="0" y="0" font-size="9.4" text-anchor="start" fill="#222">R1.6</text>
<line x1="667" y1="374" x2="650" y2="397" stroke="#000" stroke-width="0.8049999999999999"/>
<polygon points="650.00,397.00 651.04,393.78 652.80,395.10" fill="#111"/>
<path d="M 638.2,470 L 708.3,470 Q 710.3,470 710.3,472 L 710.3,527.7 L 636.2,527.7 L 636.2,472 Q 636.2,470 638.2,470 Z" fill="#dcdcdf" stroke="#aaa" stroke-width="0.69" />
<path d="M 636.2,476.6 L 648.8,476.6 A 4.45 4.45 0 0 1 648.8,485.5 L 636.2,485.5 Z" fill="#fff" stroke="none" stroke-width="0.9199999999999999" />
<path d="M 694.7,469.5 L 694.7,485 A 4.45 4.45 0 0 0 703.6,485 L 703.6,469.5 Z" fill="#fff" stroke="none" stroke-width="0.9199999999999999" />
<line x1="636.2" y1="456.6" x2="636.2" y2="470" stroke="#000" stroke-width="0.9199999999999999" shape-rendering="crispEdges"/>
<line x1="598.9" y1="476.6" x2="636.2" y2="476.6" stroke="#000" stroke-width="1.035" shape-rendering="crispEdges"/>
<line x1="598.9" y1="485.5" x2="636.2" y2="485.5" stroke="#000" stroke-width="1.035" shape-rendering="crispEdges"/>
<path d="M 636.2,476.6 L 648.8,476.6 A 4.45 4.45 0 0 1 648.8,485.5 L 636.2,485.5" fill="none" stroke="#666" stroke-width="0.8049999999999999" />
<line x1="694.7" y1="456" x2="694.7" y2="470" stroke="#000" stroke-width="1.035" shape-rendering="crispEdges"/>
<line x1="703.6" y1="456" x2="703.6" y2="470" stroke="#000" stroke-width="1.035" shape-rendering="crispEdges"/>
<path d="M 694.7,470 L 694.7,485 A 4.45 4.45 0 0 0 703.6,485 L 703.6,470" fill="none" stroke="#666" stroke-width="0.8049999999999999" />
<line x1="710.3" y1="470" x2="748.7" y2="470" stroke="#000" stroke-width="0.9199999999999999" shape-rendering="crispEdges"/>
<line x1="614.4" y1="527.7" x2="748.7" y2="527.7" stroke="#000" stroke-width="0.9199999999999999" shape-rendering="crispEdges"/>
<line x1="636.2" y1="524.3" x2="710.3" y2="524.3" stroke="#000" stroke-width="0.69" shape-rendering="crispEdges"/>
<line x1="696.4" y1="524.3" x2="696.4" y2="527.7" stroke="#000" stroke-width="0.69" shape-rendering="crispEdges"/>
<line x1="704" y1="524.3" x2="704" y2="527.7" stroke="#000" stroke-width="0.69" shape-rendering="crispEdges"/>
<line x1="614.4" y1="481" x2="656.6" y2="481" stroke="#000" stroke-width="0.8049999999999999" shape-rendering="crispEdges"/>
<line x1="699.1" y1="485.5" x2="699.1" y2="493.3" stroke="#000" stroke-width="0.8049999999999999" shape-rendering="crispEdges"/>
<line x1="687.6" y1="485" x2="730.9" y2="485" stroke="#000" stroke-width="0.8049999999999999" shape-rendering="crispEdges"/>
<line x1="648.8" y1="456.6" x2="648.8" y2="490" stroke="#000" stroke-width="0.8049999999999999" shape-rendering="crispEdges"/>
<line x1="618.9" y1="481" x2="618.9" y2="527.7" stroke="#000" stroke-width="0.8049999999999999" shape-rendering="crispEdges"/>
<polygon points="618.90,481.00 620.30,485.20 617.50,485.20" fill="#111"/>
<polygon points="618.90,527.70 617.50,523.50 620.30,523.50" fill="#111"/>
<rect x="613.5" y="499" width="12" height="9.5" rx="0" fill="#fff" stroke="none" stroke-width="0.8"/>
<text transform="translate(619.3 507.48) scale(0.87 1)" x="0" y="0" font-size="9.8" text-anchor="middle" fill="#222">17</text>
<line x1="602.2" y1="468.9" x2="602.2" y2="493.3" stroke="#000" stroke-width="0.8049999999999999" shape-rendering="crispEdges"/>
<polygon points="602.20,476.60 600.80,472.40 603.60,472.40" fill="#111"/>
<polygon points="602.20,485.50 603.60,489.70 600.80,489.70" fill="#111"/>
<text transform="translate(602.4 466.48) scale(0.87 1)" x="0" y="0" font-size="9.8" text-anchor="middle" fill="#222">3.2</text>
<line x1="727.6" y1="485" x2="727.6" y2="527.7" stroke="#000" stroke-width="0.8049999999999999" shape-rendering="crispEdges"/>
<polygon points="727.60,485.00 729.00,489.20 726.20,489.20" fill="#111"/>
<polygon points="727.60,527.70 726.20,523.50 729.00,523.50" fill="#111"/>
<rect x="718" y="500.5" width="20" height="9.5" rx="0" fill="#fff" stroke="none" stroke-width="0.8"/>
<text transform="translate(728 508.98) scale(0.87 1)" x="0" y="0" font-size="9.8" text-anchor="middle" fill="#222">15.5</text>
<line x1="744.2" y1="470" x2="744.2" y2="527.7" stroke="#000" stroke-width="0.8049999999999999" shape-rendering="crispEdges"/>
<polygon points="744.20,470.00 745.60,474.20 742.80,474.20" fill="#111"/>
<polygon points="744.20,527.70 742.80,523.50 745.60,523.50" fill="#111"/>
<rect x="738.5" y="492.5" width="12" height="9.5" rx="0" fill="#fff" stroke="none" stroke-width="0.8"/>
<text transform="translate(744.1 500.98) scale(0.87 1)" x="0" y="0" font-size="9.8" text-anchor="middle" fill="#222">21</text>
<line x1="626" y1="460" x2="636.2" y2="460" stroke="#000" stroke-width="0.8049999999999999" shape-rendering="crispEdges"/>
<polygon points="636.20,460.00 632.00,461.40 632.00,458.60" fill="#111"/>
<line x1="648.8" y1="460" x2="658" y2="460" stroke="#000" stroke-width="0.8049999999999999" shape-rendering="crispEdges"/>
<polygon points="648.80,460.00 653.00,458.60 653.00,461.40" fill="#111"/>
<text transform="translate(642.5 457.28) scale(0.87 1)" x="0" y="0" font-size="9.8" text-anchor="middle" fill="#222">4.5</text>
<line x1="686" y1="460" x2="694.7" y2="460" stroke="#000" stroke-width="0.8049999999999999" shape-rendering="crispEdges"/>
<polygon points="694.70,460.00 690.50,461.40 690.50,458.60" fill="#111"/>
<line x1="703.6" y1="460" x2="712" y2="460" stroke="#000" stroke-width="0.8049999999999999" shape-rendering="crispEdges"/>
<polygon points="703.60,460.00 707.80,458.60 707.80,461.40" fill="#111"/>
<text transform="translate(699.5 454.78) scale(0.87 1)" x="0" y="0" font-size="9.8" text-anchor="middle" fill="#222">3.2</text>
<text transform="translate(660.9 457.14) scale(0.96 1)" x="0" y="0" font-size="9.4" text-anchor="start" fill="#222">R1.6</text>
<line x1="662.1" y1="458.9" x2="649.9" y2="480" stroke="#000" stroke-width="0.8049999999999999"/>
<polygon points="649.90,480.00 650.56,476.68 652.46,477.79" fill="#111"/>
<text transform="translate(553 454.68) scale(0.87 1)" x="0" y="0" font-size="9.8" text-anchor="middle" fill="#222">1</text>
<line x1="543" y1="460.3" x2="562.5" y2="460.3" stroke="#000" stroke-width="0.8049999999999999" shape-rendering="crispEdges"/>
<polygon points="551.60,460.30 547.40,461.70 547.40,458.90" fill="#111"/>
<polygon points="554.10,460.30 558.30,458.90 558.30,461.70" fill="#111"/>
<line x1="551.6" y1="455.8" x2="551.6" y2="469.1" stroke="#000" stroke-width="0.69" shape-rendering="crispEdges"/>
<line x1="554.1" y1="455.8" x2="554.1" y2="469.1" stroke="#000" stroke-width="0.69" shape-rendering="crispEdges"/>
<path d="M 551.6,470 L 551.6,522 Q 551.6,527.4 557,527.4 L 584.9,527.4 L 584.9,524.9 L 558,524.9 Q 554.4,524.9 554.4,521.3 L 554.4,470 Z" fill="#dcdcdf" stroke="#000" stroke-width="0.9199999999999999" />
<line x1="544.2" y1="480.8" x2="561.6" y2="480.8" stroke="#000" stroke-width="0.8049999999999999" shape-rendering="crispEdges"/>
<line x1="551.6" y1="477" x2="554.4" y2="477" stroke="#fff" stroke-width="0.69" shape-rendering="crispEdges"/>
<line x1="551.6" y1="484.5" x2="554.4" y2="484.5" stroke="#fff" stroke-width="0.69" shape-rendering="crispEdges"/>
<line x1="573.6" y1="518.2" x2="573.6" y2="535.7" stroke="#000" stroke-width="0.8049999999999999" shape-rendering="crispEdges"/>
<line x1="569.5" y1="524.9" x2="569.5" y2="527.4" stroke="#000" stroke-width="0.69" shape-rendering="crispEdges"/>
<line x1="577.5" y1="524.9" x2="577.5" y2="527.4" stroke="#000" stroke-width="0.69" shape-rendering="crispEdges"/>
</svg></body></html>
